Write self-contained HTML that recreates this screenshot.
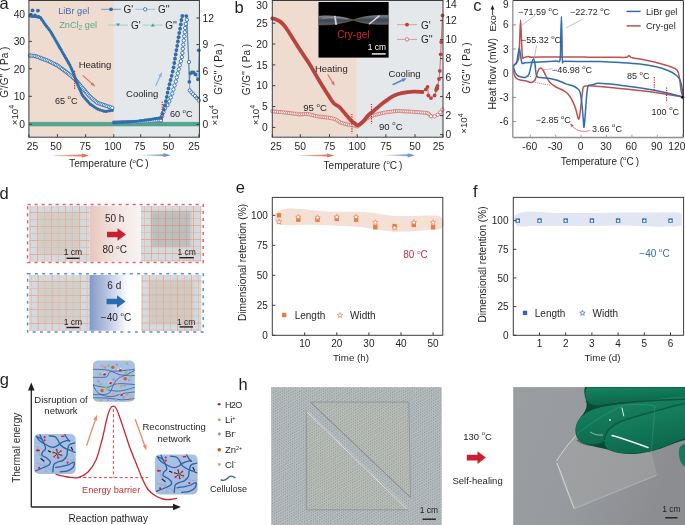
<!DOCTYPE html>
<html><head><meta charset="utf-8"><style>
html,body{margin:0;padding:0;background:#fff;}
svg{display:block;font-family:"Liberation Sans", sans-serif;}
</style></head><body>
<div style="will-change:transform;width:685px;height:525px"><svg width="685" height="525" viewBox="0 0 685 525">
<rect x="28.9" y="0.5" width="85.0" height="136.7" fill="#eedcd1" />
<rect x="113.9" y="0.5" width="85.5" height="136.7" fill="#e4e8ea" />
<rect x="29.4" y="121.9" width="169.5" height="4.4" fill="#52a58c" />
<polygon points="30,122.3 32,122.3 31,124.2" fill="#5cab93"/>
<polygon points="32,122.3 34,122.3 33,124.2" fill="#5cab93"/>
<polygon points="34,122.3 36,122.3 35,124.2" fill="#5cab93"/>
<polygon points="36,122.3 38,122.3 37,124.2" fill="#5cab93"/>
<polygon points="38,122.3 40,122.3 39,124.2" fill="#5cab93"/>
<polygon points="40,122.3 42,122.3 41,124.2" fill="#5cab93"/>
<polygon points="42,122.3 44,122.3 43,124.2" fill="#5cab93"/>
<polygon points="44,122.3 46,122.3 45,124.2" fill="#5cab93"/>
<polygon points="46,122.3 48,122.3 47,124.2" fill="#5cab93"/>
<polygon points="48,122.3 50,122.3 49,124.2" fill="#5cab93"/>
<polygon points="50,122.3 52,122.3 51,124.2" fill="#5cab93"/>
<polygon points="52,122.3 54,122.3 53,124.2" fill="#5cab93"/>
<polygon points="54,122.3 56,122.3 55,124.2" fill="#5cab93"/>
<polygon points="56,122.3 58,122.3 57,124.2" fill="#5cab93"/>
<polygon points="58,122.3 60,122.3 59,124.2" fill="#5cab93"/>
<polygon points="60,122.3 62,122.3 61,124.2" fill="#5cab93"/>
<polygon points="62,122.3 64,122.3 63,124.2" fill="#5cab93"/>
<polygon points="64,122.3 66,122.3 65,124.2" fill="#5cab93"/>
<polygon points="66,122.3 68,122.3 67,124.2" fill="#5cab93"/>
<polygon points="68,122.3 70,122.3 69,124.2" fill="#5cab93"/>
<polygon points="70,122.3 72,122.3 71,124.2" fill="#5cab93"/>
<polygon points="72,122.3 74,122.3 73,124.2" fill="#5cab93"/>
<polygon points="74,122.3 76,122.3 75,124.2" fill="#5cab93"/>
<polygon points="76,122.3 78,122.3 77,124.2" fill="#5cab93"/>
<polygon points="78,122.3 80,122.3 79,124.2" fill="#5cab93"/>
<polygon points="80,122.3 82,122.3 81,124.2" fill="#5cab93"/>
<polygon points="82,122.3 84,122.3 83,124.2" fill="#5cab93"/>
<polygon points="84,122.3 86,122.3 85,124.2" fill="#5cab93"/>
<polygon points="86,122.3 88,122.3 87,124.2" fill="#5cab93"/>
<polygon points="88,122.3 90,122.3 89,124.2" fill="#5cab93"/>
<polygon points="90,122.3 92,122.3 91,124.2" fill="#5cab93"/>
<polygon points="92,122.3 94,122.3 93,124.2" fill="#5cab93"/>
<polygon points="94,122.3 96,122.3 95,124.2" fill="#5cab93"/>
<polygon points="96,122.3 98,122.3 97,124.2" fill="#5cab93"/>
<polygon points="98,122.3 100,122.3 99,124.2" fill="#5cab93"/>
<polygon points="100,122.3 102,122.3 101,124.2" fill="#5cab93"/>
<polygon points="102,122.3 104,122.3 103,124.2" fill="#5cab93"/>
<polygon points="104,122.3 106,122.3 105,124.2" fill="#5cab93"/>
<polygon points="106,122.3 108,122.3 107,124.2" fill="#5cab93"/>
<polygon points="108,122.3 110,122.3 109,124.2" fill="#5cab93"/>
<polygon points="110,122.3 112,122.3 111,124.2" fill="#5cab93"/>
<polygon points="112,122.3 114,122.3 113,124.2" fill="#5cab93"/>
<polygon points="114,122.3 116,122.3 115,124.2" fill="#5cab93"/>
<polygon points="116,122.3 118,122.3 117,124.2" fill="#5cab93"/>
<polygon points="118,122.3 120,122.3 119,124.2" fill="#5cab93"/>
<polygon points="120,122.3 122,122.3 121,124.2" fill="#5cab93"/>
<polygon points="122,122.3 124,122.3 123,124.2" fill="#5cab93"/>
<polygon points="124,122.3 126,122.3 125,124.2" fill="#5cab93"/>
<polygon points="126,122.3 128,122.3 127,124.2" fill="#5cab93"/>
<polygon points="128,122.3 130,122.3 129,124.2" fill="#5cab93"/>
<polygon points="130,122.3 132,122.3 131,124.2" fill="#5cab93"/>
<polygon points="132,122.3 134,122.3 133,124.2" fill="#5cab93"/>
<polygon points="134,122.3 136,122.3 135,124.2" fill="#5cab93"/>
<polygon points="136,122.3 138,122.3 137,124.2" fill="#5cab93"/>
<polygon points="138,122.3 140,122.3 139,124.2" fill="#5cab93"/>
<polygon points="140,122.3 142,122.3 141,124.2" fill="#5cab93"/>
<polygon points="142,122.3 144,122.3 143,124.2" fill="#5cab93"/>
<polygon points="144,122.3 146,122.3 145,124.2" fill="#5cab93"/>
<polygon points="146,122.3 148,122.3 147,124.2" fill="#5cab93"/>
<polygon points="148,122.3 150,122.3 149,124.2" fill="#5cab93"/>
<polygon points="150,122.3 152,122.3 151,124.2" fill="#5cab93"/>
<polygon points="152,122.3 154,122.3 153,124.2" fill="#5cab93"/>
<polygon points="154,122.3 156,122.3 155,124.2" fill="#5cab93"/>
<polygon points="156,122.3 158,122.3 157,124.2" fill="#5cab93"/>
<polygon points="158,122.3 160,122.3 159,124.2" fill="#5cab93"/>
<polygon points="160,122.3 162,122.3 161,124.2" fill="#5cab93"/>
<polygon points="162,122.3 164,122.3 163,124.2" fill="#5cab93"/>
<polygon points="164,122.3 166,122.3 165,124.2" fill="#5cab93"/>
<polygon points="166,122.3 168,122.3 167,124.2" fill="#5cab93"/>
<polygon points="168,122.3 170,122.3 169,124.2" fill="#5cab93"/>
<polygon points="170,122.3 172,122.3 171,124.2" fill="#5cab93"/>
<polygon points="172,122.3 174,122.3 173,124.2" fill="#5cab93"/>
<polygon points="174,122.3 176,122.3 175,124.2" fill="#5cab93"/>
<polygon points="176,122.3 178,122.3 177,124.2" fill="#5cab93"/>
<polygon points="178,122.3 180,122.3 179,124.2" fill="#5cab93"/>
<polygon points="180,122.3 182,122.3 181,124.2" fill="#5cab93"/>
<polygon points="182,122.3 184,122.3 183,124.2" fill="#5cab93"/>
<polygon points="184,122.3 186,122.3 185,124.2" fill="#5cab93"/>
<polygon points="186,122.3 188,122.3 187,124.2" fill="#5cab93"/>
<polygon points="188,122.3 190,122.3 189,124.2" fill="#5cab93"/>
<polygon points="190,122.3 192,122.3 191,124.2" fill="#5cab93"/>
<polygon points="192,122.3 194,122.3 193,124.2" fill="#5cab93"/>
<polygon points="194,122.3 196,122.3 195,124.2" fill="#5cab93"/>
<polygon points="196,122.3 198,122.3 197,124.2" fill="#5cab93"/>
<polygon points="198,122.3 200,122.3 199,124.2" fill="#5cab93"/>
<circle cx="30.0" cy="55.5" r="1.7" fill="#fff" stroke="#2f6ead" stroke-width="0.9"/>
<circle cx="31.7" cy="55.7" r="1.7" fill="#fff" stroke="#2f6ead" stroke-width="0.9"/>
<circle cx="33.5" cy="55.9" r="1.7" fill="#fff" stroke="#2f6ead" stroke-width="0.9"/>
<circle cx="35.2" cy="56.1" r="1.7" fill="#fff" stroke="#2f6ead" stroke-width="0.9"/>
<circle cx="36.9" cy="56.7" r="1.7" fill="#fff" stroke="#2f6ead" stroke-width="0.9"/>
<circle cx="38.5" cy="57.2" r="1.7" fill="#fff" stroke="#2f6ead" stroke-width="0.9"/>
<circle cx="40.2" cy="57.9" r="1.7" fill="#fff" stroke="#2f6ead" stroke-width="0.9"/>
<circle cx="41.8" cy="58.5" r="1.7" fill="#fff" stroke="#2f6ead" stroke-width="0.9"/>
<circle cx="43.5" cy="59.1" r="1.7" fill="#fff" stroke="#2f6ead" stroke-width="0.9"/>
<circle cx="45.1" cy="59.7" r="1.7" fill="#fff" stroke="#2f6ead" stroke-width="0.9"/>
<circle cx="46.8" cy="60.3" r="1.7" fill="#fff" stroke="#2f6ead" stroke-width="0.9"/>
<circle cx="48.4" cy="61.0" r="1.7" fill="#fff" stroke="#2f6ead" stroke-width="0.9"/>
<circle cx="50.0" cy="61.8" r="1.7" fill="#fff" stroke="#2f6ead" stroke-width="0.9"/>
<circle cx="51.5" cy="62.6" r="1.7" fill="#fff" stroke="#2f6ead" stroke-width="0.9"/>
<circle cx="53.1" cy="63.4" r="1.7" fill="#fff" stroke="#2f6ead" stroke-width="0.9"/>
<circle cx="54.7" cy="64.1" r="1.7" fill="#fff" stroke="#2f6ead" stroke-width="0.9"/>
<circle cx="56.2" cy="64.9" r="1.7" fill="#fff" stroke="#2f6ead" stroke-width="0.9"/>
<circle cx="57.8" cy="65.7" r="1.7" fill="#fff" stroke="#2f6ead" stroke-width="0.9"/>
<circle cx="59.2" cy="66.8" r="1.7" fill="#fff" stroke="#2f6ead" stroke-width="0.9"/>
<circle cx="60.6" cy="67.8" r="1.7" fill="#fff" stroke="#2f6ead" stroke-width="0.9"/>
<circle cx="62.0" cy="68.9" r="1.7" fill="#fff" stroke="#2f6ead" stroke-width="0.9"/>
<circle cx="63.4" cy="69.9" r="1.7" fill="#fff" stroke="#2f6ead" stroke-width="0.9"/>
<circle cx="64.9" cy="71.0" r="1.7" fill="#fff" stroke="#2f6ead" stroke-width="0.9"/>
<circle cx="66.3" cy="72.0" r="1.7" fill="#fff" stroke="#2f6ead" stroke-width="0.9"/>
<circle cx="67.7" cy="73.1" r="1.7" fill="#fff" stroke="#2f6ead" stroke-width="0.9"/>
<circle cx="69.0" cy="74.2" r="1.7" fill="#fff" stroke="#2f6ead" stroke-width="0.9"/>
<circle cx="70.4" cy="75.3" r="1.7" fill="#fff" stroke="#2f6ead" stroke-width="0.9"/>
<circle cx="71.7" cy="76.5" r="1.7" fill="#fff" stroke="#2f6ead" stroke-width="0.9"/>
<circle cx="73.1" cy="77.6" r="1.7" fill="#fff" stroke="#2f6ead" stroke-width="0.9"/>
<circle cx="74.4" cy="78.7" r="1.7" fill="#fff" stroke="#2f6ead" stroke-width="0.9"/>
<circle cx="75.6" cy="79.9" r="1.7" fill="#fff" stroke="#2f6ead" stroke-width="0.9"/>
<circle cx="76.8" cy="81.3" r="1.7" fill="#fff" stroke="#2f6ead" stroke-width="0.9"/>
<circle cx="77.9" cy="82.6" r="1.7" fill="#fff" stroke="#2f6ead" stroke-width="0.9"/>
<circle cx="79.1" cy="84.0" r="1.7" fill="#fff" stroke="#2f6ead" stroke-width="0.9"/>
<circle cx="80.2" cy="85.3" r="1.7" fill="#fff" stroke="#2f6ead" stroke-width="0.9"/>
<circle cx="81.3" cy="86.6" r="1.7" fill="#fff" stroke="#2f6ead" stroke-width="0.9"/>
<circle cx="82.5" cy="88.0" r="1.7" fill="#fff" stroke="#2f6ead" stroke-width="0.9"/>
<circle cx="83.6" cy="89.3" r="1.7" fill="#fff" stroke="#2f6ead" stroke-width="0.9"/>
<circle cx="84.8" cy="90.6" r="1.7" fill="#fff" stroke="#2f6ead" stroke-width="0.9"/>
<circle cx="85.9" cy="92.0" r="1.7" fill="#fff" stroke="#2f6ead" stroke-width="0.9"/>
<circle cx="87.1" cy="93.3" r="1.7" fill="#fff" stroke="#2f6ead" stroke-width="0.9"/>
<circle cx="88.2" cy="94.6" r="1.7" fill="#fff" stroke="#2f6ead" stroke-width="0.9"/>
<circle cx="89.4" cy="96.0" r="1.7" fill="#fff" stroke="#2f6ead" stroke-width="0.9"/>
<circle cx="90.6" cy="97.2" r="1.7" fill="#fff" stroke="#2f6ead" stroke-width="0.9"/>
<circle cx="91.9" cy="98.3" r="1.7" fill="#fff" stroke="#2f6ead" stroke-width="0.9"/>
<circle cx="93.3" cy="99.5" r="1.7" fill="#fff" stroke="#2f6ead" stroke-width="0.9"/>
<circle cx="94.6" cy="100.6" r="1.7" fill="#fff" stroke="#2f6ead" stroke-width="0.9"/>
<circle cx="96.0" cy="101.7" r="1.7" fill="#fff" stroke="#2f6ead" stroke-width="0.9"/>
<circle cx="97.3" cy="102.8" r="1.7" fill="#fff" stroke="#2f6ead" stroke-width="0.9"/>
<circle cx="99.0" cy="103.4" r="1.7" fill="#fff" stroke="#2f6ead" stroke-width="0.9"/>
<circle cx="100.6" cy="104.0" r="1.7" fill="#fff" stroke="#2f6ead" stroke-width="0.9"/>
<circle cx="102.3" cy="104.5" r="1.7" fill="#fff" stroke="#2f6ead" stroke-width="0.9"/>
<circle cx="104.0" cy="105.1" r="1.7" fill="#fff" stroke="#2f6ead" stroke-width="0.9"/>
<circle cx="105.6" cy="105.7" r="1.7" fill="#fff" stroke="#2f6ead" stroke-width="0.9"/>
<circle cx="107.3" cy="106.2" r="1.7" fill="#fff" stroke="#2f6ead" stroke-width="0.9"/>
<circle cx="109.0" cy="106.8" r="1.7" fill="#fff" stroke="#2f6ead" stroke-width="0.9"/>
<circle cx="110.6" cy="107.3" r="1.7" fill="#fff" stroke="#2f6ead" stroke-width="0.9"/>
<circle cx="112.3" cy="107.9" r="1.7" fill="#fff" stroke="#2f6ead" stroke-width="0.9"/>
<circle cx="30.0" cy="16.0" r="1.6" fill="#2f6ead" stroke="none" stroke-width="0.8"/>
<circle cx="32.1" cy="16.4" r="1.6" fill="#2f6ead" stroke="none" stroke-width="0.8"/>
<circle cx="34.3" cy="16.5" r="1.6" fill="#2f6ead" stroke="none" stroke-width="0.8"/>
<circle cx="36.4" cy="16.6" r="1.6" fill="#2f6ead" stroke="none" stroke-width="0.8"/>
<circle cx="38.5" cy="17.0" r="1.6" fill="#2f6ead" stroke="none" stroke-width="0.8"/>
<circle cx="40.5" cy="17.6" r="1.6" fill="#2f6ead" stroke="none" stroke-width="0.8"/>
<circle cx="41.7" cy="19.4" r="1.6" fill="#2f6ead" stroke="none" stroke-width="0.8"/>
<circle cx="42.9" cy="21.1" r="1.6" fill="#2f6ead" stroke="none" stroke-width="0.8"/>
<circle cx="44.1" cy="22.9" r="1.6" fill="#2f6ead" stroke="none" stroke-width="0.8"/>
<circle cx="45.3" cy="24.7" r="1.6" fill="#2f6ead" stroke="none" stroke-width="0.8"/>
<circle cx="46.7" cy="26.4" r="1.6" fill="#2f6ead" stroke="none" stroke-width="0.8"/>
<circle cx="48.0" cy="28.1" r="1.6" fill="#2f6ead" stroke="none" stroke-width="0.8"/>
<circle cx="49.3" cy="29.8" r="1.6" fill="#2f6ead" stroke="none" stroke-width="0.8"/>
<circle cx="50.6" cy="31.5" r="1.6" fill="#2f6ead" stroke="none" stroke-width="0.8"/>
<circle cx="51.6" cy="33.3" r="1.6" fill="#2f6ead" stroke="none" stroke-width="0.8"/>
<circle cx="52.7" cy="35.2" r="1.6" fill="#2f6ead" stroke="none" stroke-width="0.8"/>
<circle cx="53.8" cy="37.1" r="1.6" fill="#2f6ead" stroke="none" stroke-width="0.8"/>
<circle cx="54.9" cy="38.9" r="1.6" fill="#2f6ead" stroke="none" stroke-width="0.8"/>
<circle cx="55.9" cy="40.8" r="1.6" fill="#2f6ead" stroke="none" stroke-width="0.8"/>
<circle cx="57.0" cy="42.7" r="1.6" fill="#2f6ead" stroke="none" stroke-width="0.8"/>
<circle cx="58.1" cy="44.5" r="1.6" fill="#2f6ead" stroke="none" stroke-width="0.8"/>
<circle cx="59.1" cy="46.4" r="1.6" fill="#2f6ead" stroke="none" stroke-width="0.8"/>
<circle cx="60.2" cy="48.3" r="1.6" fill="#2f6ead" stroke="none" stroke-width="0.8"/>
<circle cx="61.3" cy="50.1" r="1.6" fill="#2f6ead" stroke="none" stroke-width="0.8"/>
<circle cx="62.3" cy="52.0" r="1.6" fill="#2f6ead" stroke="none" stroke-width="0.8"/>
<circle cx="63.4" cy="53.9" r="1.6" fill="#2f6ead" stroke="none" stroke-width="0.8"/>
<circle cx="64.5" cy="55.7" r="1.6" fill="#2f6ead" stroke="none" stroke-width="0.8"/>
<circle cx="65.5" cy="57.6" r="1.6" fill="#2f6ead" stroke="none" stroke-width="0.8"/>
<circle cx="66.6" cy="59.4" r="1.6" fill="#2f6ead" stroke="none" stroke-width="0.8"/>
<circle cx="67.7" cy="61.3" r="1.6" fill="#2f6ead" stroke="none" stroke-width="0.8"/>
<circle cx="68.7" cy="63.2" r="1.6" fill="#2f6ead" stroke="none" stroke-width="0.8"/>
<circle cx="69.8" cy="65.0" r="1.6" fill="#2f6ead" stroke="none" stroke-width="0.8"/>
<circle cx="70.7" cy="67.0" r="1.6" fill="#2f6ead" stroke="none" stroke-width="0.8"/>
<circle cx="71.6" cy="68.9" r="1.6" fill="#2f6ead" stroke="none" stroke-width="0.8"/>
<circle cx="72.4" cy="70.9" r="1.6" fill="#2f6ead" stroke="none" stroke-width="0.8"/>
<circle cx="73.3" cy="72.9" r="1.6" fill="#2f6ead" stroke="none" stroke-width="0.8"/>
<circle cx="74.1" cy="74.9" r="1.6" fill="#2f6ead" stroke="none" stroke-width="0.8"/>
<circle cx="74.8" cy="76.9" r="1.6" fill="#2f6ead" stroke="none" stroke-width="0.8"/>
<circle cx="75.6" cy="78.9" r="1.6" fill="#2f6ead" stroke="none" stroke-width="0.8"/>
<circle cx="76.3" cy="80.9" r="1.6" fill="#2f6ead" stroke="none" stroke-width="0.8"/>
<circle cx="77.1" cy="82.9" r="1.6" fill="#2f6ead" stroke="none" stroke-width="0.8"/>
<circle cx="77.9" cy="84.9" r="1.6" fill="#2f6ead" stroke="none" stroke-width="0.8"/>
<circle cx="78.7" cy="86.9" r="1.6" fill="#2f6ead" stroke="none" stroke-width="0.8"/>
<circle cx="79.6" cy="88.9" r="1.6" fill="#2f6ead" stroke="none" stroke-width="0.8"/>
<circle cx="80.5" cy="90.8" r="1.6" fill="#2f6ead" stroke="none" stroke-width="0.8"/>
<circle cx="81.3" cy="92.8" r="1.6" fill="#2f6ead" stroke="none" stroke-width="0.8"/>
<circle cx="82.2" cy="94.8" r="1.6" fill="#2f6ead" stroke="none" stroke-width="0.8"/>
<circle cx="83.4" cy="96.5" r="1.6" fill="#2f6ead" stroke="none" stroke-width="0.8"/>
<circle cx="84.8" cy="98.1" r="1.6" fill="#2f6ead" stroke="none" stroke-width="0.8"/>
<circle cx="86.2" cy="99.7" r="1.6" fill="#2f6ead" stroke="none" stroke-width="0.8"/>
<circle cx="87.7" cy="101.3" r="1.6" fill="#2f6ead" stroke="none" stroke-width="0.8"/>
<circle cx="89.1" cy="103.0" r="1.6" fill="#2f6ead" stroke="none" stroke-width="0.8"/>
<circle cx="90.6" cy="104.4" r="1.6" fill="#2f6ead" stroke="none" stroke-width="0.8"/>
<circle cx="92.4" cy="105.6" r="1.6" fill="#2f6ead" stroke="none" stroke-width="0.8"/>
<circle cx="94.2" cy="106.8" r="1.6" fill="#2f6ead" stroke="none" stroke-width="0.8"/>
<circle cx="96.0" cy="108.0" r="1.6" fill="#2f6ead" stroke="none" stroke-width="0.8"/>
<circle cx="97.8" cy="109.1" r="1.6" fill="#2f6ead" stroke="none" stroke-width="0.8"/>
<circle cx="99.8" cy="109.8" r="1.6" fill="#2f6ead" stroke="none" stroke-width="0.8"/>
<circle cx="101.9" cy="110.5" r="1.6" fill="#2f6ead" stroke="none" stroke-width="0.8"/>
<circle cx="103.9" cy="111.2" r="1.6" fill="#2f6ead" stroke="none" stroke-width="0.8"/>
<circle cx="106.0" cy="111.4" r="1.6" fill="#2f6ead" stroke="none" stroke-width="0.8"/>
<circle cx="108.1" cy="111.0" r="1.6" fill="#2f6ead" stroke="none" stroke-width="0.8"/>
<circle cx="110.2" cy="110.7" r="1.6" fill="#2f6ead" stroke="none" stroke-width="0.8"/>
<circle cx="112.3" cy="110.3" r="1.6" fill="#2f6ead" stroke="none" stroke-width="0.8"/>
<circle cx="32.5" cy="10.4" r="1.9" fill="#2f6ead" stroke="none" stroke-width="0.8"/>
<circle cx="37.9" cy="10.6" r="1.9" fill="#2f6ead" stroke="none" stroke-width="0.8"/>
<circle cx="31.0" cy="15.0" r="1.9" fill="#2f6ead" stroke="none" stroke-width="0.8"/>
<circle cx="35.0" cy="15.5" r="1.9" fill="#2f6ead" stroke="none" stroke-width="0.8"/>
<circle cx="38.5" cy="16.8" r="1.9" fill="#2f6ead" stroke="none" stroke-width="0.8"/>
<polyline points="113.7,122.3 140.0,121.8 160.8,120.3 164.5,109.0 168.3,104.0 172.0,94.2 175.7,81.8 179.4,67.0 181.9,57.0 183.9,39.7 185.6,24.8 186.9,19.8 188.9,62.0 189.8,90.5 193.1,94.2 196.8,98.0 198.8,100.4" fill="none" stroke="#2f6ead" stroke-width="0.6" stroke-linejoin="round" stroke-linecap="round" />
<polyline points="113.7,122.7 134.8,121.5 149.7,119.5 160.8,117.8 163.3,111.6 165.8,101.7 168.3,89.3 170.8,79.3 173.2,69.4 175.7,54.5 178.2,39.7 180.7,24.8 181.9,16.1 184.4,15.4 186.4,16.1 188.1,49.6 189.3,81.8 190.6,73.1 193.1,72.4 195.5,74.4 198.0,79.3 199.3,50.0" fill="none" stroke="#2f6ead" stroke-width="0.6" stroke-linejoin="round" stroke-linecap="round" />
<circle cx="113.7" cy="122.3" r="1.5" fill="#fff" stroke="#2f6ead" stroke-width="0.8"/>
<circle cx="115.6" cy="122.3" r="1.5" fill="#fff" stroke="#2f6ead" stroke-width="0.8"/>
<circle cx="117.5" cy="122.2" r="1.5" fill="#fff" stroke="#2f6ead" stroke-width="0.8"/>
<circle cx="119.4" cy="122.2" r="1.5" fill="#fff" stroke="#2f6ead" stroke-width="0.8"/>
<circle cx="121.2" cy="122.2" r="1.5" fill="#fff" stroke="#2f6ead" stroke-width="0.8"/>
<circle cx="123.1" cy="122.1" r="1.5" fill="#fff" stroke="#2f6ead" stroke-width="0.8"/>
<circle cx="125.0" cy="122.1" r="1.5" fill="#fff" stroke="#2f6ead" stroke-width="0.8"/>
<circle cx="126.9" cy="122.0" r="1.5" fill="#fff" stroke="#2f6ead" stroke-width="0.8"/>
<circle cx="128.8" cy="122.0" r="1.5" fill="#fff" stroke="#2f6ead" stroke-width="0.8"/>
<circle cx="130.7" cy="122.0" r="1.5" fill="#fff" stroke="#2f6ead" stroke-width="0.8"/>
<circle cx="132.6" cy="121.9" r="1.5" fill="#fff" stroke="#2f6ead" stroke-width="0.8"/>
<circle cx="134.4" cy="121.9" r="1.5" fill="#fff" stroke="#2f6ead" stroke-width="0.8"/>
<circle cx="136.3" cy="121.9" r="1.5" fill="#fff" stroke="#2f6ead" stroke-width="0.8"/>
<circle cx="138.2" cy="121.8" r="1.5" fill="#fff" stroke="#2f6ead" stroke-width="0.8"/>
<circle cx="140.1" cy="121.8" r="1.5" fill="#fff" stroke="#2f6ead" stroke-width="0.8"/>
<circle cx="142.0" cy="121.7" r="1.5" fill="#fff" stroke="#2f6ead" stroke-width="0.8"/>
<circle cx="143.9" cy="121.5" r="1.5" fill="#fff" stroke="#2f6ead" stroke-width="0.8"/>
<circle cx="145.7" cy="121.4" r="1.5" fill="#fff" stroke="#2f6ead" stroke-width="0.8"/>
<circle cx="147.6" cy="121.2" r="1.5" fill="#fff" stroke="#2f6ead" stroke-width="0.8"/>
<circle cx="149.5" cy="121.1" r="1.5" fill="#fff" stroke="#2f6ead" stroke-width="0.8"/>
<circle cx="151.4" cy="121.0" r="1.5" fill="#fff" stroke="#2f6ead" stroke-width="0.8"/>
<circle cx="153.3" cy="120.8" r="1.5" fill="#fff" stroke="#2f6ead" stroke-width="0.8"/>
<circle cx="155.2" cy="120.7" r="1.5" fill="#fff" stroke="#2f6ead" stroke-width="0.8"/>
<circle cx="157.0" cy="120.6" r="1.5" fill="#fff" stroke="#2f6ead" stroke-width="0.8"/>
<circle cx="158.9" cy="120.4" r="1.5" fill="#fff" stroke="#2f6ead" stroke-width="0.8"/>
<circle cx="160.8" cy="120.3" r="1.5" fill="#fff" stroke="#2f6ead" stroke-width="0.8"/>
<circle cx="160.8" cy="120.3" r="1.7" fill="#fff" stroke="#2f6ead" stroke-width="0.9"/>
<circle cx="162.1" cy="116.3" r="1.7" fill="#fff" stroke="#2f6ead" stroke-width="0.9"/>
<circle cx="163.4" cy="112.3" r="1.7" fill="#fff" stroke="#2f6ead" stroke-width="0.9"/>
<circle cx="164.9" cy="108.5" r="1.7" fill="#fff" stroke="#2f6ead" stroke-width="0.9"/>
<circle cx="167.4" cy="105.1" r="1.7" fill="#fff" stroke="#2f6ead" stroke-width="0.9"/>
<circle cx="169.3" cy="101.4" r="1.7" fill="#fff" stroke="#2f6ead" stroke-width="0.9"/>
<circle cx="170.8" cy="97.5" r="1.7" fill="#fff" stroke="#2f6ead" stroke-width="0.9"/>
<circle cx="172.2" cy="93.6" r="1.7" fill="#fff" stroke="#2f6ead" stroke-width="0.9"/>
<circle cx="173.4" cy="89.5" r="1.7" fill="#fff" stroke="#2f6ead" stroke-width="0.9"/>
<circle cx="174.6" cy="85.5" r="1.7" fill="#fff" stroke="#2f6ead" stroke-width="0.9"/>
<circle cx="175.8" cy="81.5" r="1.7" fill="#fff" stroke="#2f6ead" stroke-width="0.9"/>
<circle cx="176.8" cy="77.4" r="1.7" fill="#fff" stroke="#2f6ead" stroke-width="0.9"/>
<circle cx="177.8" cy="73.4" r="1.7" fill="#fff" stroke="#2f6ead" stroke-width="0.9"/>
<circle cx="178.8" cy="69.3" r="1.7" fill="#fff" stroke="#2f6ead" stroke-width="0.9"/>
<circle cx="179.8" cy="65.2" r="1.7" fill="#fff" stroke="#2f6ead" stroke-width="0.9"/>
<circle cx="180.9" cy="61.2" r="1.7" fill="#fff" stroke="#2f6ead" stroke-width="0.9"/>
<circle cx="181.9" cy="57.1" r="1.7" fill="#fff" stroke="#2f6ead" stroke-width="0.9"/>
<circle cx="182.4" cy="53.0" r="1.7" fill="#fff" stroke="#2f6ead" stroke-width="0.9"/>
<circle cx="182.8" cy="48.8" r="1.7" fill="#fff" stroke="#2f6ead" stroke-width="0.9"/>
<circle cx="183.3" cy="44.6" r="1.7" fill="#fff" stroke="#2f6ead" stroke-width="0.9"/>
<circle cx="183.8" cy="40.5" r="1.7" fill="#fff" stroke="#2f6ead" stroke-width="0.9"/>
<circle cx="184.3" cy="36.3" r="1.7" fill="#fff" stroke="#2f6ead" stroke-width="0.9"/>
<circle cx="184.8" cy="32.2" r="1.7" fill="#fff" stroke="#2f6ead" stroke-width="0.9"/>
<circle cx="185.2" cy="28.0" r="1.7" fill="#fff" stroke="#2f6ead" stroke-width="0.9"/>
<circle cx="185.8" cy="23.9" r="1.7" fill="#fff" stroke="#2f6ead" stroke-width="0.9"/>
<circle cx="186.9" cy="19.8" r="1.7" fill="#fff" stroke="#2f6ead" stroke-width="0.9"/>
<circle cx="188.9" cy="62.0" r="1.7" fill="#fff" stroke="#2f6ead" stroke-width="0.9"/>
<circle cx="189.8" cy="90.5" r="1.7" fill="#fff" stroke="#2f6ead" stroke-width="0.9"/>
<circle cx="191.5" cy="92.5" r="1.7" fill="#fff" stroke="#2f6ead" stroke-width="0.9"/>
<circle cx="193.1" cy="94.2" r="1.7" fill="#fff" stroke="#2f6ead" stroke-width="0.9"/>
<circle cx="195.0" cy="96.0" r="1.7" fill="#fff" stroke="#2f6ead" stroke-width="0.9"/>
<circle cx="196.8" cy="98.0" r="1.7" fill="#fff" stroke="#2f6ead" stroke-width="0.9"/>
<circle cx="198.8" cy="100.4" r="1.7" fill="#fff" stroke="#2f6ead" stroke-width="0.9"/>
<circle cx="113.7" cy="122.7" r="1.6" fill="#2f6ead" stroke="none" stroke-width="0.8"/>
<circle cx="115.8" cy="122.6" r="1.6" fill="#2f6ead" stroke="none" stroke-width="0.8"/>
<circle cx="117.8" cy="122.5" r="1.6" fill="#2f6ead" stroke="none" stroke-width="0.8"/>
<circle cx="119.9" cy="122.3" r="1.6" fill="#2f6ead" stroke="none" stroke-width="0.8"/>
<circle cx="121.9" cy="122.2" r="1.6" fill="#2f6ead" stroke="none" stroke-width="0.8"/>
<circle cx="124.0" cy="122.1" r="1.6" fill="#2f6ead" stroke="none" stroke-width="0.8"/>
<circle cx="126.0" cy="122.0" r="1.6" fill="#2f6ead" stroke="none" stroke-width="0.8"/>
<circle cx="128.1" cy="121.9" r="1.6" fill="#2f6ead" stroke="none" stroke-width="0.8"/>
<circle cx="130.2" cy="121.8" r="1.6" fill="#2f6ead" stroke="none" stroke-width="0.8"/>
<circle cx="132.2" cy="121.6" r="1.6" fill="#2f6ead" stroke="none" stroke-width="0.8"/>
<circle cx="134.3" cy="121.5" r="1.6" fill="#2f6ead" stroke="none" stroke-width="0.8"/>
<circle cx="136.3" cy="121.3" r="1.6" fill="#2f6ead" stroke="none" stroke-width="0.8"/>
<circle cx="138.4" cy="121.0" r="1.6" fill="#2f6ead" stroke="none" stroke-width="0.8"/>
<circle cx="140.4" cy="120.7" r="1.6" fill="#2f6ead" stroke="none" stroke-width="0.8"/>
<circle cx="142.4" cy="120.5" r="1.6" fill="#2f6ead" stroke="none" stroke-width="0.8"/>
<circle cx="144.5" cy="120.2" r="1.6" fill="#2f6ead" stroke="none" stroke-width="0.8"/>
<circle cx="146.5" cy="119.9" r="1.6" fill="#2f6ead" stroke="none" stroke-width="0.8"/>
<circle cx="148.6" cy="119.7" r="1.6" fill="#2f6ead" stroke="none" stroke-width="0.8"/>
<circle cx="150.6" cy="119.4" r="1.6" fill="#2f6ead" stroke="none" stroke-width="0.8"/>
<circle cx="152.7" cy="119.0" r="1.6" fill="#2f6ead" stroke="none" stroke-width="0.8"/>
<circle cx="154.7" cy="118.7" r="1.6" fill="#2f6ead" stroke="none" stroke-width="0.8"/>
<circle cx="156.7" cy="118.4" r="1.6" fill="#2f6ead" stroke="none" stroke-width="0.8"/>
<circle cx="158.8" cy="118.1" r="1.6" fill="#2f6ead" stroke="none" stroke-width="0.8"/>
<circle cx="160.8" cy="117.8" r="1.6" fill="#2f6ead" stroke="none" stroke-width="0.8"/>
<circle cx="160.8" cy="117.8" r="1.9" fill="#2f6ead" stroke="none" stroke-width="0.8"/>
<circle cx="162.4" cy="113.8" r="1.9" fill="#2f6ead" stroke="none" stroke-width="0.8"/>
<circle cx="163.8" cy="109.6" r="1.9" fill="#2f6ead" stroke="none" stroke-width="0.8"/>
<circle cx="164.9" cy="105.4" r="1.9" fill="#2f6ead" stroke="none" stroke-width="0.8"/>
<circle cx="165.9" cy="101.2" r="1.9" fill="#2f6ead" stroke="none" stroke-width="0.8"/>
<circle cx="166.8" cy="96.9" r="1.9" fill="#2f6ead" stroke="none" stroke-width="0.8"/>
<circle cx="167.6" cy="92.7" r="1.9" fill="#2f6ead" stroke="none" stroke-width="0.8"/>
<circle cx="168.5" cy="88.4" r="1.9" fill="#2f6ead" stroke="none" stroke-width="0.8"/>
<circle cx="169.6" cy="84.2" r="1.9" fill="#2f6ead" stroke="none" stroke-width="0.8"/>
<circle cx="170.6" cy="80.0" r="1.9" fill="#2f6ead" stroke="none" stroke-width="0.8"/>
<circle cx="171.7" cy="75.8" r="1.9" fill="#2f6ead" stroke="none" stroke-width="0.8"/>
<circle cx="172.7" cy="71.5" r="1.9" fill="#2f6ead" stroke="none" stroke-width="0.8"/>
<circle cx="173.6" cy="67.3" r="1.9" fill="#2f6ead" stroke="none" stroke-width="0.8"/>
<circle cx="174.3" cy="63.0" r="1.9" fill="#2f6ead" stroke="none" stroke-width="0.8"/>
<circle cx="175.0" cy="58.7" r="1.9" fill="#2f6ead" stroke="none" stroke-width="0.8"/>
<circle cx="175.7" cy="54.4" r="1.9" fill="#2f6ead" stroke="none" stroke-width="0.8"/>
<circle cx="176.4" cy="50.1" r="1.9" fill="#2f6ead" stroke="none" stroke-width="0.8"/>
<circle cx="177.2" cy="45.8" r="1.9" fill="#2f6ead" stroke="none" stroke-width="0.8"/>
<circle cx="177.9" cy="41.5" r="1.9" fill="#2f6ead" stroke="none" stroke-width="0.8"/>
<circle cx="178.6" cy="37.2" r="1.9" fill="#2f6ead" stroke="none" stroke-width="0.8"/>
<circle cx="179.3" cy="32.9" r="1.9" fill="#2f6ead" stroke="none" stroke-width="0.8"/>
<circle cx="180.1" cy="28.7" r="1.9" fill="#2f6ead" stroke="none" stroke-width="0.8"/>
<circle cx="180.8" cy="24.4" r="1.9" fill="#2f6ead" stroke="none" stroke-width="0.8"/>
<circle cx="181.4" cy="20.0" r="1.9" fill="#2f6ead" stroke="none" stroke-width="0.8"/>
<circle cx="182.3" cy="16.0" r="1.9" fill="#2f6ead" stroke="none" stroke-width="0.8"/>
<circle cx="186.4" cy="16.1" r="1.9" fill="#2f6ead" stroke="none" stroke-width="0.8"/>
<circle cx="189.3" cy="81.8" r="1.9" fill="#2f6ead" stroke="none" stroke-width="0.8"/>
<circle cx="190.6" cy="73.1" r="1.9" fill="#2f6ead" stroke="none" stroke-width="0.8"/>
<circle cx="192.0" cy="72.5" r="1.9" fill="#2f6ead" stroke="none" stroke-width="0.8"/>
<circle cx="193.6" cy="72.4" r="1.9" fill="#2f6ead" stroke="none" stroke-width="0.8"/>
<circle cx="195.5" cy="74.4" r="1.9" fill="#2f6ead" stroke="none" stroke-width="0.8"/>
<circle cx="198.0" cy="79.3" r="1.9" fill="#2f6ead" stroke="none" stroke-width="0.8"/>
<circle cx="198.8" cy="50.3" r="1.9" fill="#2f6ead" stroke="none" stroke-width="0.8"/>
<line x1="74.6" y1="70.7" x2="74.6" y2="89.5" stroke="#d1222a" stroke-width="1.2" stroke-dasharray="1.2,1.2"/>
<line x1="162.2" y1="101.7" x2="162.2" y2="121.5" stroke="#d1222a" stroke-width="1.2" stroke-dasharray="1.2,1.2"/>
<rect x="28.9" y="0.5" width="170.5" height="136.7" fill="none" stroke="#3c3c3c" stroke-width="1"/>
<line x1="28.9" y1="124.2" x2="31.9" y2="124.2" stroke="#3c3c3c" stroke-width="1" />
<text x="25.1" y="127.9" font-size="10.3" fill="#231f20" text-anchor="end" >0</text>
<line x1="28.9" y1="96.3" x2="31.9" y2="96.3" stroke="#3c3c3c" stroke-width="1" />
<text x="25.1" y="100.0" font-size="10.3" fill="#231f20" text-anchor="end" >10</text>
<line x1="28.9" y1="68.8" x2="31.9" y2="68.8" stroke="#3c3c3c" stroke-width="1" />
<text x="25.1" y="72.5" font-size="10.3" fill="#231f20" text-anchor="end" >20</text>
<line x1="28.9" y1="41.4" x2="31.9" y2="41.4" stroke="#3c3c3c" stroke-width="1" />
<text x="25.1" y="45.1" font-size="10.3" fill="#231f20" text-anchor="end" >30</text>
<line x1="28.9" y1="14.2" x2="31.9" y2="14.2" stroke="#3c3c3c" stroke-width="1" />
<text x="25.1" y="17.9" font-size="10.3" fill="#231f20" text-anchor="end" >40</text>
<line x1="196.4" y1="124.4" x2="199.4" y2="124.4" stroke="#3c3c3c" stroke-width="1" />
<text x="202.6" y="128.1" font-size="10.3" fill="#231f20" text-anchor="start" >0</text>
<line x1="196.4" y1="97.8" x2="199.4" y2="97.8" stroke="#3c3c3c" stroke-width="1" />
<text x="202.6" y="101.5" font-size="10.3" fill="#231f20" text-anchor="start" >3</text>
<line x1="196.4" y1="71.2" x2="199.4" y2="71.2" stroke="#3c3c3c" stroke-width="1" />
<text x="202.6" y="74.9" font-size="10.3" fill="#231f20" text-anchor="start" >6</text>
<line x1="196.4" y1="44.6" x2="199.4" y2="44.6" stroke="#3c3c3c" stroke-width="1" />
<text x="202.6" y="48.3" font-size="10.3" fill="#231f20" text-anchor="start" >9</text>
<line x1="196.4" y1="18.0" x2="199.4" y2="18.0" stroke="#3c3c3c" stroke-width="1" />
<text x="202.6" y="21.7" font-size="10.3" fill="#231f20" text-anchor="start" >12</text>
<line x1="28.9" y1="137.2" x2="28.9" y2="134.2" stroke="#3c3c3c" stroke-width="1" />
<line x1="57.4" y1="137.2" x2="57.4" y2="134.2" stroke="#3c3c3c" stroke-width="1" />
<line x1="85.7" y1="137.2" x2="85.7" y2="134.2" stroke="#3c3c3c" stroke-width="1" />
<line x1="113.8" y1="137.2" x2="113.8" y2="134.2" stroke="#3c3c3c" stroke-width="1" />
<line x1="140.7" y1="137.2" x2="140.7" y2="134.2" stroke="#3c3c3c" stroke-width="1" />
<line x1="169.8" y1="137.2" x2="169.8" y2="134.2" stroke="#3c3c3c" stroke-width="1" />
<line x1="198.9" y1="137.2" x2="198.9" y2="134.2" stroke="#3c3c3c" stroke-width="1" />
<text x="32.5" y="149.5" font-size="10.3" fill="#231f20" text-anchor="middle" >25</text>
<text x="56.0" y="149.5" font-size="10.3" fill="#231f20" text-anchor="middle" >50</text>
<text x="85.2" y="149.5" font-size="10.3" fill="#231f20" text-anchor="middle" >75</text>
<text x="112.9" y="149.5" font-size="10.3" fill="#231f20" text-anchor="middle" >100</text>
<text x="139.8" y="149.5" font-size="10.3" fill="#231f20" text-anchor="middle" >75</text>
<text x="168.4" y="149.5" font-size="10.3" fill="#231f20" text-anchor="middle" >50</text>
<text x="193.9" y="149.5" font-size="10.3" fill="#231f20" text-anchor="middle" >25</text>
<defs><linearGradient id="ga1" gradientUnits="userSpaceOnUse" x1="53.8" y1="0" x2="88.9" y2="0"><stop offset="0" stop-color="#f6c4b6"/><stop offset="1" stop-color="#e0644c"/></linearGradient></defs>
<polygon points="53.8,155.29999999999998 81.9,154.6 81.9,153.5 88.9,155.6 81.9,157.7 81.9,156.6 53.8,155.9" fill="url(#ga1)"/>
<defs><linearGradient id="ga2" gradientUnits="userSpaceOnUse" x1="136" y1="0" x2="170.5" y2="0"><stop offset="0" stop-color="#ffffff"/><stop offset="1" stop-color="#5a86c4"/></linearGradient></defs>
<polygon points="136,154.89999999999998 163.5,154.2 163.5,153.1 170.5,155.2 163.5,157.29999999999998 163.5,156.2 136,155.5" fill="url(#ga2)"/>
<text x="108.9" y="167.2" font-size="10.2" fill="#231f20" text-anchor="middle" >Temperature (<tspan font-size="6" dy="-4.4">o</tspan><tspan dy="4.4">C</tspan> )</text>
<text x="4.2" y="75.8" font-size="10" fill="#231f20" text-anchor="middle" transform="rotate(-90 4.2 72.2)" >G'/G'' ( Pa )</text>
<text x="14.6" y="118.5" font-size="9.7" fill="#231f20" text-anchor="middle" transform="rotate(-90 14.6 115.1)" >×10<tspan font-size="7" dy="-4">4</tspan></text>
<text x="218.0" y="72.5" font-size="10" fill="#231f20" text-anchor="middle" transform="rotate(-90 218.0 69.0)" >G'/G'' ( Pa )</text>
<text x="214.4" y="118.6" font-size="9.7" fill="#231f20" text-anchor="middle" transform="rotate(-90 214.4 115.2)" >×10<tspan font-size="7" dy="-4">4</tspan></text>
<text x="95.0" y="67.9" font-size="9.5" fill="#231f20" text-anchor="middle" >Heating</text>
<text x="142.2" y="97.1" font-size="9.5" fill="#231f20" text-anchor="middle" >Cooling</text>
<text x="66.2" y="103.6" font-size="9.1" fill="#231f20" text-anchor="middle" >65 <tspan font-size="6" dy="-4.4">o</tspan><tspan dy="4.4">C</tspan></text>
<text x="181.2" y="117.2" font-size="9.1" fill="#231f20" text-anchor="middle" >60 <tspan font-size="6" dy="-4.4">o</tspan><tspan dy="4.4">C</tspan></text>
<line x1="83.0" y1="75.6" x2="91.7" y2="83.4" stroke="#e2725b" stroke-width="1.2" stroke-linecap="round"/>
<polygon points="95.4,86.8 90.6,84.7 92.8,82.2" fill="#e2725b"/>
<line x1="155.9" y1="85.5" x2="160.0" y2="76.5" stroke="#8fb0da" stroke-width="1.2" stroke-linecap="round"/>
<polygon points="162.0,71.9 161.5,77.2 158.4,75.8" fill="#8fb0da"/>
<text x="58.2" y="13.8" font-size="9.2" fill="#3d6faf" text-anchor="start" >LiBr gel</text>
<text x="59.2" y="28.0" font-size="9.2" fill="#55ab8c" text-anchor="start" >ZnCl<tspan font-size="6.5" dy="2">2</tspan><tspan dy="-2"> gel</tspan></text>
<line x1="101.1" y1="9.3" x2="121.0" y2="9.3" stroke="#5b86bd" stroke-width="0.8" />
<circle cx="111.0" cy="9.3" r="1.9" fill="#2f6ead" stroke="none" stroke-width="0.8"/>
<text x="123.4" y="13.3" font-size="10" fill="#231f20" text-anchor="start" >G'</text>
<line x1="135.1" y1="9.3" x2="155.0" y2="9.3" stroke="#8fb0da" stroke-width="0.8" />
<circle cx="145.2" cy="9.3" r="1.7" fill="#fff" stroke="#2f6ead" stroke-width="0.9"/>
<text x="158.0" y="13.3" font-size="10" fill="#231f20" text-anchor="start" >G''</text>
<line x1="108.1" y1="25.1" x2="128.0" y2="25.1" stroke="#8fcdb5" stroke-width="0.8" />
<polygon points="116,23.6 120,23.6 118,26.6" fill="#4a9f83"/>
<text x="131.0" y="28.6" font-size="10" fill="#231f20" text-anchor="start" >G'</text>
<line x1="142.7" y1="25.1" x2="162.6" y2="25.1" stroke="#8fcdb5" stroke-width="0.8" />
<polygon points="150.8,26.6 154.8,26.6 152.8,23.6" fill="#4a9f83"/>
<text x="165.2" y="28.6" font-size="10" fill="#231f20" text-anchor="start" >G''</text>
<text x="-0.5" y="8.8" font-size="16.5" fill="#231f20" text-anchor="start" >a</text>
<rect x="272.3" y="0.5" width="84.6" height="136.7" fill="#eedcd1" />
<rect x="356.9" y="0.5" width="86.1" height="136.7" fill="#e4e8ea" />
<circle cx="272.3" cy="111.3" r="1.6" fill="#fff" stroke="#c86a66" stroke-width="0.8"/>
<circle cx="274.2" cy="111.5" r="1.6" fill="#fff" stroke="#c86a66" stroke-width="0.8"/>
<circle cx="276.0" cy="111.7" r="1.6" fill="#fff" stroke="#c86a66" stroke-width="0.8"/>
<circle cx="277.9" cy="111.9" r="1.6" fill="#fff" stroke="#c86a66" stroke-width="0.8"/>
<circle cx="279.8" cy="112.0" r="1.6" fill="#fff" stroke="#c86a66" stroke-width="0.8"/>
<circle cx="281.6" cy="112.2" r="1.6" fill="#fff" stroke="#c86a66" stroke-width="0.8"/>
<circle cx="283.5" cy="112.4" r="1.6" fill="#fff" stroke="#c86a66" stroke-width="0.8"/>
<circle cx="285.3" cy="112.6" r="1.6" fill="#fff" stroke="#c86a66" stroke-width="0.8"/>
<circle cx="287.2" cy="112.8" r="1.6" fill="#fff" stroke="#c86a66" stroke-width="0.8"/>
<circle cx="289.1" cy="113.0" r="1.6" fill="#fff" stroke="#c86a66" stroke-width="0.8"/>
<circle cx="290.9" cy="113.3" r="1.6" fill="#fff" stroke="#c86a66" stroke-width="0.8"/>
<circle cx="292.8" cy="113.5" r="1.6" fill="#fff" stroke="#c86a66" stroke-width="0.8"/>
<circle cx="294.6" cy="113.7" r="1.6" fill="#fff" stroke="#c86a66" stroke-width="0.8"/>
<circle cx="296.5" cy="113.9" r="1.6" fill="#fff" stroke="#c86a66" stroke-width="0.8"/>
<circle cx="298.4" cy="114.2" r="1.6" fill="#fff" stroke="#c86a66" stroke-width="0.8"/>
<circle cx="300.2" cy="114.4" r="1.6" fill="#fff" stroke="#c86a66" stroke-width="0.8"/>
<circle cx="302.1" cy="114.3" r="1.6" fill="#fff" stroke="#c86a66" stroke-width="0.8"/>
<circle cx="304.0" cy="114.1" r="1.6" fill="#fff" stroke="#c86a66" stroke-width="0.8"/>
<circle cx="305.8" cy="114.0" r="1.6" fill="#fff" stroke="#c86a66" stroke-width="0.8"/>
<circle cx="307.7" cy="114.0" r="1.6" fill="#fff" stroke="#c86a66" stroke-width="0.8"/>
<circle cx="309.5" cy="114.4" r="1.6" fill="#fff" stroke="#c86a66" stroke-width="0.8"/>
<circle cx="311.3" cy="114.9" r="1.6" fill="#fff" stroke="#c86a66" stroke-width="0.8"/>
<circle cx="313.1" cy="115.3" r="1.6" fill="#fff" stroke="#c86a66" stroke-width="0.8"/>
<circle cx="314.9" cy="115.8" r="1.6" fill="#fff" stroke="#c86a66" stroke-width="0.8"/>
<circle cx="316.8" cy="116.2" r="1.6" fill="#fff" stroke="#c86a66" stroke-width="0.8"/>
<circle cx="318.6" cy="116.6" r="1.6" fill="#fff" stroke="#c86a66" stroke-width="0.8"/>
<circle cx="320.5" cy="116.8" r="1.6" fill="#fff" stroke="#c86a66" stroke-width="0.8"/>
<circle cx="322.3" cy="117.0" r="1.6" fill="#fff" stroke="#c86a66" stroke-width="0.8"/>
<circle cx="324.2" cy="117.2" r="1.6" fill="#fff" stroke="#c86a66" stroke-width="0.8"/>
<circle cx="326.0" cy="117.4" r="1.6" fill="#fff" stroke="#c86a66" stroke-width="0.8"/>
<circle cx="327.9" cy="117.7" r="1.6" fill="#fff" stroke="#c86a66" stroke-width="0.8"/>
<circle cx="329.8" cy="117.9" r="1.6" fill="#fff" stroke="#c86a66" stroke-width="0.8"/>
<circle cx="331.6" cy="118.3" r="1.6" fill="#fff" stroke="#c86a66" stroke-width="0.8"/>
<circle cx="333.4" cy="118.7" r="1.6" fill="#fff" stroke="#c86a66" stroke-width="0.8"/>
<circle cx="335.2" cy="119.2" r="1.6" fill="#fff" stroke="#c86a66" stroke-width="0.8"/>
<circle cx="336.8" cy="120.2" r="1.6" fill="#fff" stroke="#c86a66" stroke-width="0.8"/>
<circle cx="338.4" cy="121.2" r="1.6" fill="#fff" stroke="#c86a66" stroke-width="0.8"/>
<circle cx="339.9" cy="122.3" r="1.6" fill="#fff" stroke="#c86a66" stroke-width="0.8"/>
<circle cx="341.6" cy="123.0" r="1.6" fill="#fff" stroke="#c86a66" stroke-width="0.8"/>
<circle cx="343.4" cy="123.5" r="1.6" fill="#fff" stroke="#c86a66" stroke-width="0.8"/>
<circle cx="345.2" cy="123.9" r="1.6" fill="#fff" stroke="#c86a66" stroke-width="0.8"/>
<circle cx="347.1" cy="124.4" r="1.6" fill="#fff" stroke="#c86a66" stroke-width="0.8"/>
<circle cx="348.9" cy="124.7" r="1.6" fill="#fff" stroke="#c86a66" stroke-width="0.8"/>
<circle cx="350.7" cy="125.0" r="1.6" fill="#fff" stroke="#c86a66" stroke-width="0.8"/>
<circle cx="352.6" cy="125.4" r="1.6" fill="#fff" stroke="#c86a66" stroke-width="0.8"/>
<circle cx="354.4" cy="125.7" r="1.6" fill="#fff" stroke="#c86a66" stroke-width="0.8"/>
<circle cx="356.2" cy="126.3" r="1.6" fill="#fff" stroke="#c86a66" stroke-width="0.8"/>
<circle cx="357.9" cy="126.3" r="1.6" fill="#fff" stroke="#c86a66" stroke-width="0.8"/>
<circle cx="359.3" cy="125.1" r="1.6" fill="#fff" stroke="#c86a66" stroke-width="0.8"/>
<circle cx="360.6" cy="123.8" r="1.6" fill="#fff" stroke="#c86a66" stroke-width="0.8"/>
<circle cx="362.0" cy="122.5" r="1.6" fill="#fff" stroke="#c86a66" stroke-width="0.8"/>
<circle cx="363.4" cy="121.3" r="1.6" fill="#fff" stroke="#c86a66" stroke-width="0.8"/>
<circle cx="364.9" cy="120.2" r="1.6" fill="#fff" stroke="#c86a66" stroke-width="0.8"/>
<circle cx="366.4" cy="119.1" r="1.6" fill="#fff" stroke="#c86a66" stroke-width="0.8"/>
<circle cx="367.9" cy="117.9" r="1.6" fill="#fff" stroke="#c86a66" stroke-width="0.8"/>
<circle cx="369.4" cy="116.8" r="1.6" fill="#fff" stroke="#c86a66" stroke-width="0.8"/>
<circle cx="371.1" cy="116.1" r="1.6" fill="#fff" stroke="#c86a66" stroke-width="0.8"/>
<circle cx="372.9" cy="115.6" r="1.6" fill="#fff" stroke="#c86a66" stroke-width="0.8"/>
<circle cx="374.7" cy="115.0" r="1.6" fill="#fff" stroke="#c86a66" stroke-width="0.8"/>
<circle cx="376.5" cy="114.5" r="1.6" fill="#fff" stroke="#c86a66" stroke-width="0.8"/>
<circle cx="378.3" cy="114.0" r="1.6" fill="#fff" stroke="#c86a66" stroke-width="0.8"/>
<circle cx="380.1" cy="113.6" r="1.6" fill="#fff" stroke="#c86a66" stroke-width="0.8"/>
<circle cx="382.0" cy="113.2" r="1.6" fill="#fff" stroke="#c86a66" stroke-width="0.8"/>
<circle cx="383.8" cy="112.8" r="1.6" fill="#fff" stroke="#c86a66" stroke-width="0.8"/>
<circle cx="385.6" cy="112.4" r="1.6" fill="#fff" stroke="#c86a66" stroke-width="0.8"/>
<circle cx="387.5" cy="112.1" r="1.6" fill="#fff" stroke="#c86a66" stroke-width="0.8"/>
<circle cx="389.3" cy="111.9" r="1.6" fill="#fff" stroke="#c86a66" stroke-width="0.8"/>
<circle cx="391.2" cy="111.7" r="1.6" fill="#fff" stroke="#c86a66" stroke-width="0.8"/>
<circle cx="393.1" cy="111.4" r="1.6" fill="#fff" stroke="#c86a66" stroke-width="0.8"/>
<circle cx="394.9" cy="111.2" r="1.6" fill="#fff" stroke="#c86a66" stroke-width="0.8"/>
<circle cx="396.8" cy="111.0" r="1.6" fill="#fff" stroke="#c86a66" stroke-width="0.8"/>
<circle cx="398.6" cy="110.9" r="1.6" fill="#fff" stroke="#c86a66" stroke-width="0.8"/>
<circle cx="400.5" cy="111.1" r="1.6" fill="#fff" stroke="#c86a66" stroke-width="0.8"/>
<circle cx="402.4" cy="111.2" r="1.6" fill="#fff" stroke="#c86a66" stroke-width="0.8"/>
<circle cx="404.2" cy="111.3" r="1.6" fill="#fff" stroke="#c86a66" stroke-width="0.8"/>
<circle cx="406.1" cy="111.4" r="1.6" fill="#fff" stroke="#c86a66" stroke-width="0.8"/>
<circle cx="408.0" cy="111.5" r="1.6" fill="#fff" stroke="#c86a66" stroke-width="0.8"/>
<circle cx="409.9" cy="111.6" r="1.6" fill="#fff" stroke="#c86a66" stroke-width="0.8"/>
<circle cx="411.7" cy="111.7" r="1.6" fill="#fff" stroke="#c86a66" stroke-width="0.8"/>
<circle cx="413.6" cy="111.9" r="1.6" fill="#fff" stroke="#c86a66" stroke-width="0.8"/>
<circle cx="415.5" cy="112.0" r="1.6" fill="#fff" stroke="#c86a66" stroke-width="0.8"/>
<circle cx="417.3" cy="112.1" r="1.6" fill="#fff" stroke="#c86a66" stroke-width="0.8"/>
<circle cx="419.2" cy="112.3" r="1.6" fill="#fff" stroke="#c86a66" stroke-width="0.8"/>
<circle cx="421.1" cy="112.4" r="1.6" fill="#fff" stroke="#c86a66" stroke-width="0.8"/>
<circle cx="422.9" cy="112.6" r="1.6" fill="#fff" stroke="#c86a66" stroke-width="0.8"/>
<circle cx="424.8" cy="112.7" r="1.6" fill="#fff" stroke="#c86a66" stroke-width="0.8"/>
<circle cx="426.7" cy="112.9" r="1.6" fill="#fff" stroke="#c86a66" stroke-width="0.8"/>
<circle cx="428.3" cy="113.6" r="1.6" fill="#fff" stroke="#c86a66" stroke-width="0.8"/>
<circle cx="429.6" cy="114.9" r="1.6" fill="#fff" stroke="#c86a66" stroke-width="0.8"/>
<circle cx="431.0" cy="116.2" r="1.6" fill="#fff" stroke="#c86a66" stroke-width="0.8"/>
<circle cx="431.0" cy="116.2" r="1.7" fill="#fff" stroke="#c86a66" stroke-width="0.8"/>
<circle cx="434.6" cy="116.4" r="1.7" fill="#fff" stroke="#c86a66" stroke-width="0.8"/>
<circle cx="437.7" cy="114.8" r="1.7" fill="#fff" stroke="#c86a66" stroke-width="0.8"/>
<circle cx="440.2" cy="112.3" r="1.7" fill="#fff" stroke="#c86a66" stroke-width="0.8"/>
<circle cx="442.5" cy="109.5" r="1.7" fill="#fff" stroke="#c86a66" stroke-width="0.8"/>
<path d="M272.3,18.4 C272.9,18.6 274.8,18.9 276.0,19.4 C277.2,19.9 278.3,20.4 279.5,21.2 C280.7,22.0 281.8,23.0 283.0,24.2 C284.2,25.4 285.3,27.0 286.5,28.6 C287.7,30.2 287.8,30.6 290.0,34.0 C292.2,37.4 296.3,44.1 299.5,49.0 C302.7,53.9 305.8,58.2 309.0,63.3 C312.2,68.4 315.3,74.2 318.5,79.5 C321.7,84.8 325.4,90.8 328.0,94.8 C330.6,98.8 331.9,101.2 333.8,103.3 C335.7,105.3 337.6,105.3 339.5,107.1 C341.4,108.8 343.3,111.6 345.2,113.8 C347.1,116.0 349.4,118.9 351.0,120.5 C352.6,122.1 353.6,122.5 354.7,123.3 C355.8,124.1 356.1,125.5 357.5,125.3 C358.9,125.0 361.1,123.4 362.8,121.8 C364.6,120.2 366.2,117.3 368.0,115.6 C369.8,113.8 371.2,113.0 373.3,111.3 C375.4,109.5 378.0,107.0 380.3,105.1 C382.6,103.2 385.0,101.5 387.3,99.9 C389.6,98.3 391.7,96.7 394.3,95.5 C396.9,94.3 399.8,93.5 403.0,92.9 C406.2,92.3 410.4,91.9 413.6,91.7 C416.8,91.5 420.9,92.0 422.3,92.0" fill="none" stroke="#b9443f" stroke-width="3.8" stroke-linecap="round"/>
<polyline points="422.3,92.0 425.8,89.4 427.6,86.8 428.4,95.5 431.0,98.1 434.6,95.5 437.2,88.5 439.0,79.0 439.8,70.9 440.7,54.3 441.2,42.0 442.5,15.4" fill="none" stroke="#b9443f" stroke-width="0.7" stroke-linejoin="round" stroke-linecap="round" />
<circle cx="422.3" cy="92.0" r="1.9" fill="#b9443f" stroke="none" stroke-width="0.8"/>
<circle cx="425.8" cy="89.4" r="1.9" fill="#b9443f" stroke="none" stroke-width="0.8"/>
<circle cx="427.6" cy="86.8" r="1.9" fill="#b9443f" stroke="none" stroke-width="0.8"/>
<circle cx="428.4" cy="95.5" r="1.9" fill="#b9443f" stroke="none" stroke-width="0.8"/>
<circle cx="431.0" cy="98.1" r="1.9" fill="#b9443f" stroke="none" stroke-width="0.8"/>
<circle cx="434.6" cy="95.5" r="1.9" fill="#b9443f" stroke="none" stroke-width="0.8"/>
<circle cx="437.2" cy="88.5" r="1.9" fill="#b9443f" stroke="none" stroke-width="0.8"/>
<circle cx="439.0" cy="79.0" r="1.9" fill="#b9443f" stroke="none" stroke-width="0.8"/>
<circle cx="439.8" cy="70.9" r="1.9" fill="#b9443f" stroke="none" stroke-width="0.8"/>
<circle cx="440.7" cy="54.3" r="1.9" fill="#b9443f" stroke="none" stroke-width="0.8"/>
<circle cx="441.2" cy="42.0" r="1.9" fill="#b9443f" stroke="none" stroke-width="0.8"/>
<circle cx="442.5" cy="15.4" r="1.9" fill="#b9443f" stroke="none" stroke-width="0.8"/>
<circle cx="436.0" cy="90.0" r="1.9" fill="#b9443f" stroke="none" stroke-width="0.8"/>
<circle cx="436.8" cy="88.0" r="1.9" fill="#b9443f" stroke="none" stroke-width="0.8"/>
<circle cx="437.5" cy="86.0" r="1.9" fill="#b9443f" stroke="none" stroke-width="0.8"/>
<line x1="351.9" y1="113.9" x2="351.9" y2="133.2" stroke="#d1222a" stroke-width="1.2" stroke-dasharray="1.2,1.2"/>
<line x1="371.5" y1="103.9" x2="371.5" y2="123.5" stroke="#d1222a" stroke-width="1.2" stroke-dasharray="1.2,1.2"/>
<rect x="318.5" y="2.0" width="70.1" height="55.6" fill="#000" />
<defs><linearGradient id="rib" x1="0" y1="0" x2="0" y2="1"><stop offset="0" stop-color="#7d8896"/><stop offset="0.5" stop-color="#3c4652"/><stop offset="1" stop-color="#56606c"/></linearGradient></defs>
<path d="M318.5,16.2 C330,15.2 342,16.2 353.4,20 C342,23.8 330,25.2 318.5,24.8 Z" fill="url(#rib)" stroke="#a07a50" stroke-width="0.5" />
<path d="M353.4,20 C362,16.2 375,15 388.6,15.3 L388.6,24.2 C375,24.8 362,23.8 353.4,20 Z" fill="url(#rib)" stroke="#a07a50" stroke-width="0.5" />
<path d="M334.8,15.8 L336.2,24.8" fill="none" stroke="#e8ecf0" stroke-width="1.8" opacity="0.85"/>
<path d="M369,24.3 L379.5,15.6" fill="none" stroke="#e8ecf0" stroke-width="1.4" opacity="0.9"/>
<path d="M322,18.5 C330,17 340,17 348,19" fill="none" stroke="#9aa6b4" stroke-width="0.6" />
<text x="353.4" y="37.5" font-size="10" fill="#d3262e" text-anchor="middle" >Cry-gel</text>
<text x="376.8" y="50.3" font-size="8.4" fill="#fff" text-anchor="middle" >1 cm</text>
<line x1="371.8" y1="53.9" x2="385.7" y2="53.9" stroke="#ddd" stroke-width="1.6" />
<rect x="272.3" y="0.5" width="170.7" height="136.7" fill="none" stroke="#3c3c3c" stroke-width="1"/>
<line x1="272.3" y1="127.4" x2="275.3" y2="127.4" stroke="#3c3c3c" stroke-width="1" />
<text x="267.8" y="131.1" font-size="10.3" fill="#231f20" text-anchor="end" >0</text>
<line x1="272.3" y1="106.6" x2="275.3" y2="106.6" stroke="#3c3c3c" stroke-width="1" />
<text x="267.8" y="110.2" font-size="10.3" fill="#231f20" text-anchor="end" >5</text>
<line x1="272.3" y1="85.7" x2="275.3" y2="85.7" stroke="#3c3c3c" stroke-width="1" />
<text x="267.8" y="89.4" font-size="10.3" fill="#231f20" text-anchor="end" >10</text>
<line x1="272.3" y1="64.9" x2="275.3" y2="64.9" stroke="#3c3c3c" stroke-width="1" />
<text x="267.8" y="68.5" font-size="10.3" fill="#231f20" text-anchor="end" >15</text>
<line x1="272.3" y1="44.0" x2="275.3" y2="44.0" stroke="#3c3c3c" stroke-width="1" />
<text x="267.8" y="47.7" font-size="10.3" fill="#231f20" text-anchor="end" >20</text>
<line x1="272.3" y1="23.2" x2="275.3" y2="23.2" stroke="#3c3c3c" stroke-width="1" />
<text x="267.8" y="26.8" font-size="10.3" fill="#231f20" text-anchor="end" >25</text>
<text x="267.8" y="8.7" font-size="10.3" fill="#231f20" text-anchor="end" >30</text>
<line x1="440.0" y1="134.6" x2="443.0" y2="134.6" stroke="#3c3c3c" stroke-width="1" />
<text x="445.4" y="138.3" font-size="10.3" fill="#231f20" text-anchor="start" >0</text>
<line x1="440.0" y1="115.6" x2="443.0" y2="115.6" stroke="#3c3c3c" stroke-width="1" />
<text x="445.4" y="119.3" font-size="10.3" fill="#231f20" text-anchor="start" >2</text>
<line x1="440.0" y1="96.6" x2="443.0" y2="96.6" stroke="#3c3c3c" stroke-width="1" />
<text x="445.4" y="100.3" font-size="10.3" fill="#231f20" text-anchor="start" >4</text>
<line x1="440.0" y1="77.6" x2="443.0" y2="77.6" stroke="#3c3c3c" stroke-width="1" />
<text x="445.4" y="81.3" font-size="10.3" fill="#231f20" text-anchor="start" >6</text>
<line x1="440.0" y1="58.6" x2="443.0" y2="58.6" stroke="#3c3c3c" stroke-width="1" />
<text x="445.4" y="62.3" font-size="10.3" fill="#231f20" text-anchor="start" >8</text>
<line x1="440.0" y1="39.6" x2="443.0" y2="39.6" stroke="#3c3c3c" stroke-width="1" />
<text x="445.4" y="43.3" font-size="10.3" fill="#231f20" text-anchor="start" >10</text>
<line x1="440.0" y1="20.6" x2="443.0" y2="20.6" stroke="#3c3c3c" stroke-width="1" />
<text x="445.4" y="24.3" font-size="10.3" fill="#231f20" text-anchor="start" >12</text>
<text x="445.4" y="7.9" font-size="10.3" fill="#231f20" text-anchor="start" >14</text>
<line x1="272.3" y1="137.2" x2="272.3" y2="134.2" stroke="#3c3c3c" stroke-width="1" />
<line x1="300.3" y1="137.2" x2="300.3" y2="134.2" stroke="#3c3c3c" stroke-width="1" />
<line x1="329.5" y1="137.2" x2="329.5" y2="134.2" stroke="#3c3c3c" stroke-width="1" />
<line x1="357.2" y1="137.2" x2="357.2" y2="134.2" stroke="#3c3c3c" stroke-width="1" />
<line x1="385.9" y1="137.2" x2="385.9" y2="134.2" stroke="#3c3c3c" stroke-width="1" />
<line x1="415.0" y1="137.2" x2="415.0" y2="134.2" stroke="#3c3c3c" stroke-width="1" />
<line x1="443.0" y1="137.2" x2="443.0" y2="134.2" stroke="#3c3c3c" stroke-width="1" />
<text x="276.0" y="149.5" font-size="10.3" fill="#231f20" text-anchor="middle" >25</text>
<text x="300.3" y="149.5" font-size="10.3" fill="#231f20" text-anchor="middle" >50</text>
<text x="329.5" y="149.5" font-size="10.3" fill="#231f20" text-anchor="middle" >75</text>
<text x="357.2" y="149.5" font-size="10.3" fill="#231f20" text-anchor="middle" >100</text>
<text x="385.9" y="149.5" font-size="10.3" fill="#231f20" text-anchor="middle" >75</text>
<text x="415.0" y="149.5" font-size="10.3" fill="#231f20" text-anchor="middle" >50</text>
<text x="438.5" y="149.5" font-size="10.3" fill="#231f20" text-anchor="middle" >25</text>
<defs><linearGradient id="ga3" gradientUnits="userSpaceOnUse" x1="300" y1="0" x2="334.1" y2="0"><stop offset="0" stop-color="#f6c4b6"/><stop offset="1" stop-color="#e0644c"/></linearGradient></defs>
<polygon points="300,155.2 327.1,154.5 327.1,153.4 334.1,155.5 327.1,157.6 327.1,156.5 300,155.8" fill="url(#ga3)"/>
<defs><linearGradient id="ga4" gradientUnits="userSpaceOnUse" x1="380" y1="0" x2="414.7" y2="0"><stop offset="0" stop-color="#ffffff"/><stop offset="1" stop-color="#5a86c4"/></linearGradient></defs>
<polygon points="380,155.0 407.7,154.3 407.7,153.20000000000002 414.7,155.3 407.7,157.4 407.7,156.3 380,155.60000000000002" fill="url(#ga4)"/>
<text x="363.0" y="168.7" font-size="10.1" fill="#231f20" text-anchor="middle" >Temperature (<tspan font-size="6" dy="-4.4">o</tspan><tspan dy="4.4">C</tspan> )</text>
<text x="246.3" y="73.0" font-size="10" fill="#231f20" text-anchor="middle" transform="rotate(-90 246.3 69.5)" >G'/G'' ( Pa )</text>
<text x="255.5" y="118.4" font-size="9.7" fill="#231f20" text-anchor="middle" transform="rotate(-90 255.5 115.0)" >×10<tspan font-size="7" dy="-4">4</tspan></text>
<text x="466.7" y="71.5" font-size="10" fill="#231f20" text-anchor="middle" transform="rotate(-90 466.7 68.0)" >G'/G'' ( Pa )</text>
<text x="463.5" y="126.9" font-size="9.7" fill="#231f20" text-anchor="middle" transform="rotate(-90 463.5 123.5)" >×10<tspan font-size="7" dy="-4">4</tspan></text>
<text x="331.3" y="72.0" font-size="9.5" fill="#231f20" text-anchor="middle" >Heating</text>
<text x="404.5" y="76.5" font-size="9.5" fill="#231f20" text-anchor="middle" >Cooling</text>
<line x1="327.9" y1="74.8" x2="332.4" y2="82.0" stroke="#e2725b" stroke-width="1.2" stroke-linecap="round"/>
<polygon points="334.8,85.8 331.0,82.9 333.8,81.1" fill="#e2725b"/>
<line x1="393.1" y1="84.5" x2="402.3" y2="80.3" stroke="#5b87c5" stroke-width="1.6" stroke-linecap="round"/>
<polygon points="406.8,78.2 403.1,82.1 401.4,78.5" fill="#5b87c5"/>
<text x="315.0" y="111.2" font-size="9.6" fill="#231f20" text-anchor="middle" >95 <tspan font-size="6" dy="-4.4">o</tspan><tspan dy="4.4">C</tspan></text>
<text x="390.8" y="129.6" font-size="9.6" fill="#231f20" text-anchor="middle" >90 <tspan font-size="6" dy="-4.4">o</tspan><tspan dy="4.4">C</tspan></text>
<line x1="397.0" y1="24.7" x2="417.0" y2="24.7" stroke="#d08a86" stroke-width="0.8" />
<circle cx="407.0" cy="24.7" r="1.9" fill="#b9443f" stroke="none" stroke-width="0.8"/>
<text x="421.0" y="28.6" font-size="10" fill="#231f20" text-anchor="start" >G'</text>
<line x1="397.0" y1="39.4" x2="417.0" y2="39.4" stroke="#d08a86" stroke-width="0.8" />
<circle cx="407.0" cy="39.4" r="1.7" fill="#fff" stroke="#c86a66" stroke-width="0.9"/>
<text x="421.0" y="43.2" font-size="10" fill="#231f20" text-anchor="start" >G''</text>
<text x="234.6" y="13.0" font-size="16.5" fill="#231f20" text-anchor="start" >b</text>
<path d="M683.0,97.0 C682.7,95.8 681.6,93.2 681.0,90.0 C680.4,86.8 680.2,81.3 679.5,78.0 C678.8,74.7 678.6,71.9 677.0,70.0 C675.4,68.1 672.8,67.6 670.0,66.5 C667.2,65.4 664.2,64.6 660.0,63.5 C655.8,62.4 649.2,60.9 645.0,60.0 C640.8,59.1 637.3,58.6 635.0,58.2 C632.7,57.8 632.0,57.9 631.0,57.4 C630.0,56.9 629.5,55.4 628.8,55.4 C628.0,55.4 628.8,57.0 626.5,57.3 C624.2,57.6 619.4,57.3 615.0,57.3 C610.6,57.3 604.2,57.3 600.0,57.3 C595.8,57.3 592.5,57.3 590.0,57.3 C587.5,57.2 588.8,57.0 585.0,57.0 C581.2,57.0 573.2,57.0 567.0,57.0 C560.8,57.0 553.8,57.0 548.0,57.0 C542.2,57.0 535.3,57.3 532.0,57.2 C528.7,57.1 529.3,56.5 528.0,56.5 C526.7,56.5 524.9,57.4 524.0,57.5 C523.1,57.6 522.9,59.9 522.5,57.0 C522.1,54.1 521.8,46.2 521.5,40.0 C521.2,33.8 520.9,20.0 520.6,20.0 C520.3,20.0 520.0,33.7 519.7,40.0 C519.4,46.3 519.2,54.3 518.8,58.0 C518.3,61.7 517.6,61.0 517.0,62.0 C516.4,63.0 515.6,63.3 515.0,64.0 C514.4,64.7 513.6,65.0 513.3,66.0 C513.0,67.0 513.2,68.7 513.3,70.0 C513.4,71.3 513.9,73.3 514.0,74.0" fill="none" stroke="#c0504d" stroke-width="1.5" stroke-linejoin="round"/>
<path d="M514.0,74.0 C514.3,74.7 515.0,77.0 516.0,78.0 C517.0,79.0 518.3,79.5 520.0,80.0 C521.7,80.5 524.1,80.6 526.0,81.0 C527.9,81.4 529.8,82.7 531.3,82.5 C532.8,82.3 533.9,81.9 535.0,80.0 C536.1,78.1 537.1,73.0 538.0,71.0 C538.9,69.0 539.8,68.1 540.6,67.9 C541.4,67.7 542.1,68.7 543.0,70.0 C543.9,71.3 544.8,73.9 546.0,76.0 C547.2,78.1 548.3,80.7 550.0,82.5 C551.7,84.3 553.8,85.7 556.0,87.0 C558.2,88.3 561.2,89.3 563.2,90.5 C565.2,91.7 566.4,92.2 568.0,94.0 C569.6,95.8 571.3,98.5 572.6,101.2 C573.9,103.9 575.1,107.1 576.0,110.0 C576.9,112.9 577.6,117.3 578.2,118.5 C578.8,119.7 579.0,119.2 579.5,117.0 C580.0,114.8 580.5,109.2 581.0,105.0 C581.5,100.8 582.1,95.0 582.5,92.0 C582.9,89.0 582.9,88.0 583.5,87.0 C584.1,86.0 584.9,86.2 586.0,86.0 C587.1,85.8 586.0,85.5 590.0,85.7 C594.0,86.0 603.3,86.9 610.0,87.5 C616.7,88.1 623.3,88.8 630.0,89.5 C636.7,90.2 644.2,91.0 650.0,91.8 C655.8,92.5 659.5,93.1 665.0,94.0 C670.5,94.9 680.0,96.5 683.0,97.0" fill="none" stroke="#c0504d" stroke-width="1.5" stroke-linejoin="round"/>
<path d="M683.0,97.0 C682.8,95.5 682.5,90.8 682.0,88.0 C681.5,85.2 681.0,82.2 680.0,80.0 C679.0,77.8 678.0,76.6 676.0,75.0 C674.0,73.4 671.5,71.9 668.0,70.5 C664.5,69.1 659.7,67.6 655.0,66.5 C650.3,65.4 645.8,64.7 640.0,64.0 C634.2,63.3 626.7,62.9 620.0,62.5 C613.3,62.1 605.8,61.7 600.0,61.5 C594.2,61.3 590.8,61.5 585.0,61.5 C579.2,61.5 568.8,61.3 565.0,61.3 C561.2,61.3 563.0,64.8 562.5,61.3 C562.0,57.8 562.2,47.5 562.0,40.0 C561.8,32.5 561.6,16.5 561.4,16.5 C561.2,16.5 560.9,32.8 560.7,40.0 C560.5,47.2 560.8,56.5 560.0,60.0 C559.2,63.5 559.3,60.7 556.0,61.0 C552.7,61.3 544.3,61.8 540.0,62.0 C535.7,62.2 532.5,62.4 530.0,62.5 C527.5,62.6 526.3,62.7 525.0,62.8 C523.7,62.9 522.8,64.3 522.0,63.0 C521.2,61.7 521.0,57.5 520.5,55.0 C520.0,52.5 519.7,47.9 519.3,47.9 C518.9,47.9 518.5,52.5 518.0,55.0 C517.5,57.5 517.1,61.3 516.5,63.0 C515.9,64.7 515.0,64.4 514.5,65.0 C514.0,65.6 513.5,66.2 513.3,66.5" fill="none" stroke="#2e6db0" stroke-width="1.5" stroke-linejoin="round"/>
<path d="M513.3,66.5 C513.6,67.4 514.2,70.4 515.0,72.0 C515.8,73.6 516.8,75.1 518.0,75.9 C519.2,76.7 520.7,76.8 522.0,77.0 C523.3,77.2 524.8,77.7 526.0,77.2 C527.2,76.7 528.1,76.2 529.0,74.0 C529.9,71.8 530.8,66.5 531.5,64.0 C532.2,61.5 532.8,59.1 533.4,59.1 C534.0,59.1 534.5,61.2 535.0,64.0 C535.5,66.8 535.6,73.7 536.6,75.9 C537.6,78.2 538.8,77.1 541.0,77.5 C543.2,77.9 547.2,78.0 550.0,78.5 C552.8,79.0 555.4,79.6 558.0,80.5 C560.6,81.4 563.6,83.1 565.9,83.9 C568.2,84.7 570.2,84.8 572.0,85.5 C573.8,86.2 575.3,86.8 576.6,87.9 C577.9,89.0 579.1,89.2 580.0,92.0 C580.9,94.8 581.5,100.3 582.0,105.0 C582.5,109.7 583.0,116.3 583.3,120.0 C583.6,123.7 583.7,127.6 584.0,127.3 C584.3,127.0 584.6,122.5 585.0,118.0 C585.4,113.5 585.9,104.6 586.3,100.0 C586.7,95.4 586.8,92.9 587.2,90.5 C587.6,88.1 587.7,86.4 588.5,85.5 C589.3,84.6 590.9,85.2 592.0,85.0 C593.1,84.8 594.0,84.3 595.0,84.0 C596.0,83.7 595.5,83.2 598.0,83.2 C600.5,83.2 604.7,83.5 610.0,84.0 C615.3,84.5 623.3,85.6 630.0,86.5 C636.7,87.4 644.2,88.5 650.0,89.5 C655.8,90.5 659.5,91.2 665.0,92.5 C670.5,93.8 680.0,96.2 683.0,97.0" fill="none" stroke="#2e6db0" stroke-width="1.5" stroke-linejoin="round"/>
<line x1="526.0" y1="75.9" x2="532.0" y2="76.7" stroke="#888" stroke-width="1" stroke-dasharray="1,1"/>
<line x1="535.3" y1="82.5" x2="550.0" y2="85.2" stroke="#888" stroke-width="1" stroke-dasharray="1,1"/>
<line x1="522.0" y1="25.1" x2="534.8" y2="15.5" stroke="#999" stroke-width="0.6" />
<line x1="565.9" y1="28.0" x2="581.9" y2="19.5" stroke="#999" stroke-width="0.6" />
<line x1="536.6" y1="45.3" x2="534.0" y2="59.9" stroke="#999" stroke-width="0.6" />
<line x1="543.3" y1="69.8" x2="552.6" y2="68.7" stroke="#999" stroke-width="0.6" />
<line x1="654.3" y1="77.0" x2="654.3" y2="91.1" stroke="#d1222a" stroke-width="1.2" stroke-dasharray="1.2,1.2"/>
<line x1="666.6" y1="87.6" x2="666.6" y2="101.1" stroke="#d1222a" stroke-width="1.2" stroke-dasharray="1.2,1.2"/>
<circle cx="682.7" cy="97.3" r="1.5" fill="#000" stroke="none" stroke-width="0.8"/>
<path d="M589.9,130.5 C582,133 575,130 571,124.8" fill="none" stroke="#e0464e" stroke-width="0.7" />
<polygon points="570.2,123.6 573.8,125.2 571.2,127" fill="#e0464e"/>
<line x1="512.8" y1="0.5" x2="683.4" y2="0.5" stroke="#3a3a3a" stroke-width="1.2" />
<line x1="683.4" y1="0.5" x2="683.4" y2="137.2" stroke="#3a3a3a" stroke-width="1.1" />
<line x1="512.8" y1="0.5" x2="512.8" y2="137.5" stroke="#8e8e8e" stroke-width="1.3" />
<line x1="512.8" y1="137.5" x2="683.4" y2="137.5" stroke="#8e8e8e" stroke-width="1.3" />
<line x1="512.8" y1="121.6" x2="515.8" y2="121.6" stroke="#8e8e8e" stroke-width="1" />
<text x="508.5" y="125.2" font-size="10" fill="#231f20" text-anchor="end" >-6</text>
<line x1="512.8" y1="97.4" x2="515.8" y2="97.4" stroke="#8e8e8e" stroke-width="1" />
<text x="508.5" y="101.0" font-size="10" fill="#231f20" text-anchor="end" >-3</text>
<line x1="512.8" y1="73.2" x2="515.8" y2="73.2" stroke="#8e8e8e" stroke-width="1" />
<text x="508.5" y="76.8" font-size="10" fill="#231f20" text-anchor="end" >0</text>
<line x1="512.8" y1="49.0" x2="515.8" y2="49.0" stroke="#8e8e8e" stroke-width="1" />
<text x="508.5" y="52.5" font-size="10" fill="#231f20" text-anchor="end" >3</text>
<line x1="512.8" y1="24.8" x2="515.8" y2="24.8" stroke="#8e8e8e" stroke-width="1" />
<text x="508.5" y="28.3" font-size="10" fill="#231f20" text-anchor="end" >6</text>
<text x="508.5" y="8.3" font-size="10" fill="#231f20" text-anchor="end" >9</text>
<line x1="530.3" y1="137.2" x2="530.3" y2="134.7" stroke="#9a9a9a" stroke-width="0.9" />
<text x="529.7" y="150.3" font-size="10.3" fill="#231f20" text-anchor="middle" >-60</text>
<line x1="555.7" y1="137.2" x2="555.7" y2="134.7" stroke="#9a9a9a" stroke-width="0.9" />
<text x="555.1" y="150.3" font-size="10.3" fill="#231f20" text-anchor="middle" >-30</text>
<line x1="581.1" y1="137.2" x2="581.1" y2="134.7" stroke="#9a9a9a" stroke-width="0.9" />
<text x="580.5" y="150.3" font-size="10.3" fill="#231f20" text-anchor="middle" >0</text>
<line x1="606.5" y1="137.2" x2="606.5" y2="134.7" stroke="#9a9a9a" stroke-width="0.9" />
<text x="605.9" y="150.3" font-size="10.3" fill="#231f20" text-anchor="middle" >30</text>
<line x1="631.9" y1="137.2" x2="631.9" y2="134.7" stroke="#9a9a9a" stroke-width="0.9" />
<text x="631.3" y="150.3" font-size="10.3" fill="#231f20" text-anchor="middle" >60</text>
<line x1="657.3" y1="137.2" x2="657.3" y2="134.7" stroke="#9a9a9a" stroke-width="0.9" />
<text x="656.7" y="150.3" font-size="10.3" fill="#231f20" text-anchor="middle" >90</text>
<line x1="682.7" y1="137.2" x2="682.7" y2="134.7" stroke="#9a9a9a" stroke-width="0.9" />
<text x="676.8" y="150.3" font-size="10.3" fill="#231f20" text-anchor="middle" >120</text>
<text x="599.9" y="164.6" font-size="10" fill="#231f20" text-anchor="middle" >Temperature (<tspan font-size="6" dy="-4.4">o</tspan><tspan dy="4.4">C</tspan> )</text>
<text x="492.3" y="77.5" font-size="10.4" fill="#231f20" text-anchor="middle" transform="rotate(-90 492.3 73.8)" >Heat flow (mW)</text>
<text x="492.5" y="26.8" font-size="9.5" fill="#231f20" text-anchor="middle" transform="rotate(-90 492.5 23.4)" >Exo</text>
<line x1="492.5" y1="15.0" x2="492.5" y2="9.0" stroke="#231f20" stroke-width="0.8" />
<polygon points="492.5,5 490.6,9.5 494.4,9.5" fill="#231f20"/>
<text x="538.4" y="15.2" font-size="9" fill="#231f20" text-anchor="middle" >−71.59 <tspan font-size="6" dy="-4.4">o</tspan><tspan dy="4.4">C</tspan></text>
<text x="590.0" y="15.2" font-size="9" fill="#231f20" text-anchor="middle" >−22.72 <tspan font-size="6" dy="-4.4">o</tspan><tspan dy="4.4">C</tspan></text>
<text x="541.0" y="43.2" font-size="9" fill="#231f20" text-anchor="middle" >−55.32 <tspan font-size="6" dy="-4.4">o</tspan><tspan dy="4.4">C</tspan></text>
<text x="572.0" y="73.0" font-size="9" fill="#231f20" text-anchor="middle" >−46.98 <tspan font-size="6" dy="-4.4">o</tspan><tspan dy="4.4">C</tspan></text>
<text x="553.2" y="123.0" font-size="9" fill="#231f20" text-anchor="middle" >−2.85 <tspan font-size="6" dy="-4.4">o</tspan><tspan dy="4.4">C</tspan></text>
<text x="607.0" y="131.8" font-size="9" fill="#231f20" text-anchor="middle" >3.66 <tspan font-size="6" dy="-4.4">o</tspan><tspan dy="4.4">C</tspan></text>
<text x="638.2" y="79.4" font-size="9" fill="#231f20" text-anchor="middle" >85 <tspan font-size="6" dy="-4.4">o</tspan><tspan dy="4.4">C</tspan></text>
<text x="665.3" y="114.5" font-size="9" fill="#231f20" text-anchor="middle" >100 <tspan font-size="6" dy="-4.4">o</tspan><tspan dy="4.4">C</tspan></text>
<line x1="626.6" y1="11.4" x2="640.7" y2="11.4" stroke="#2e6db0" stroke-width="1.5" />
<text x="645.9" y="14.7" font-size="9.3" fill="#231f20" text-anchor="start" >LiBr gel</text>
<line x1="626.6" y1="25.9" x2="640.7" y2="25.9" stroke="#c0504d" stroke-width="1.5" />
<text x="645.9" y="29.2" font-size="9.3" fill="#231f20" text-anchor="start" >Cry-gel</text>
<text x="473.3" y="10.7" font-size="16.5" fill="#231f20" text-anchor="start" >c</text>
<defs><filter id="soft" x="-10%" y="-10%" width="120%" height="120%"><feGaussianBlur stdDeviation="0.9"/></filter></defs>
<text x="-0.5" y="198.5" font-size="16.5" fill="#231f20" text-anchor="start" >d</text>
<defs>
<linearGradient id="gpink" x1="0" y1="0" x2="1" y2="0"><stop offset="0" stop-color="#e8c6bb"/><stop offset="0.5" stop-color="#f2e3df"/><stop offset="1" stop-color="#f8f3f3"/></linearGradient>
<linearGradient id="gblue" x1="0" y1="0" x2="1" y2="0"><stop offset="0" stop-color="#8298c8"/><stop offset="0.45" stop-color="#bfcae3"/><stop offset="0.85" stop-color="#fafafb"/><stop offset="1" stop-color="#ffffff"/></linearGradient>
</defs>
<rect x="89.3" y="205.8" width="51.6" height="55.8" fill="url(#gpink)" />
<rect x="89.3" y="275.0" width="44.0" height="55.8" fill="url(#gblue)" />
<defs><pattern id="gp1" x="37" y="212" width="14" height="14" patternUnits="userSpaceOnUse">
<rect width="14" height="14" fill="#d0dee3"/>
<path d="M2.8,0V14M5.6,0V14M9.8,0V14M12.6,0V14M0,2.8H14M0,5.6H14M0,9.8H14M0,12.6H14" stroke="#e4c6c0" stroke-width="0.4" opacity="0.6"/>
<path d="M7.5,0V14M0,7.5H14" stroke="#ecac9a" stroke-width="0.6"/>
<path d="M0.5,0V14M0,0.5H14" stroke="#eaa18c" stroke-width="0.8"/>
</pattern></defs>
<rect x="29.0" y="205.8" width="60.3" height="55.8" fill="url(#gp1)" />
<rect x="38.2" y="211.8" width="42.4" height="43.1" fill="#d2c2b2" opacity="0.5" filter="url(#soft)"/>
<defs><pattern id="gp2" x="151" y="211" width="14" height="14" patternUnits="userSpaceOnUse">
<rect width="14" height="14" fill="#d0dee3"/>
<path d="M2.8,0V14M5.6,0V14M9.8,0V14M12.6,0V14M0,2.8H14M0,5.6H14M0,9.8H14M0,12.6H14" stroke="#e4c6c0" stroke-width="0.4" opacity="0.6"/>
<path d="M7.5,0V14M0,7.5H14" stroke="#ecac9a" stroke-width="0.6"/>
<path d="M0.5,0V14M0,0.5H14" stroke="#eaa18c" stroke-width="0.8"/>
</pattern></defs>
<rect x="140.9" y="205.8" width="60.6" height="55.8" fill="url(#gp2)" />
<rect x="151.4" y="211.4" width="39.5" height="35.5" fill="#948a80" opacity="0.34" filter="url(#soft)"/>
<defs><pattern id="gp3" x="37.7" y="281" width="14" height="14" patternUnits="userSpaceOnUse">
<rect width="14" height="14" fill="#d0dee3"/>
<path d="M2.8,0V14M5.6,0V14M9.8,0V14M12.6,0V14M0,2.8H14M0,5.6H14M0,9.8H14M0,12.6H14" stroke="#e4c6c0" stroke-width="0.4" opacity="0.6"/>
<path d="M7.5,0V14M0,7.5H14" stroke="#ecac9a" stroke-width="0.6"/>
<path d="M0.5,0V14M0,0.5H14" stroke="#eaa18c" stroke-width="0.8"/>
</pattern></defs>
<rect x="29.0" y="275.0" width="60.3" height="55.8" fill="url(#gp3)" />
<rect x="38.2" y="281.4" width="42.0" height="42.0" fill="#d2c2b2" opacity="0.45" filter="url(#soft)"/>
<defs><pattern id="gp4" x="149" y="280.5" width="14" height="14" patternUnits="userSpaceOnUse">
<rect width="14" height="14" fill="#d0dee3"/>
<path d="M2.8,0V14M5.6,0V14M9.8,0V14M12.6,0V14M0,2.8H14M0,5.6H14M0,9.8H14M0,12.6H14" stroke="#e4c6c0" stroke-width="0.4" opacity="0.6"/>
<path d="M7.5,0V14M0,7.5H14" stroke="#ecac9a" stroke-width="0.6"/>
<path d="M0.5,0V14M0,0.5H14" stroke="#eaa18c" stroke-width="0.8"/>
</pattern></defs>
<rect x="141.2" y="275.0" width="60.2" height="56.2" fill="url(#gp4)" />
<rect x="149.4" y="280.9" width="43.7" height="43.1" fill="#cfbaa8" opacity="0.5" filter="url(#soft)"/>
<text x="73.0" y="255.3" font-size="8.5" fill="#231f20" text-anchor="middle" >1 cm</text>
<line x1="66.5" y1="258.3" x2="79.5" y2="258.3" stroke="#231f20" stroke-width="1.4" />
<text x="186.6" y="255.3" font-size="8.5" fill="#231f20" text-anchor="middle" >1 cm</text>
<line x1="179.4" y1="257.7" x2="193.7" y2="257.7" stroke="#231f20" stroke-width="1.4" />
<text x="73.0" y="324.8" font-size="8.5" fill="#231f20" text-anchor="middle" >1 cm</text>
<line x1="66.5" y1="327.5" x2="79.5" y2="327.5" stroke="#231f20" stroke-width="1.4" />
<text x="186.2" y="324.6" font-size="8.5" fill="#231f20" text-anchor="middle" >1 cm</text>
<line x1="179.5" y1="326.9" x2="193.0" y2="326.9" stroke="#231f20" stroke-width="1.4" />
<rect x="27.6" y="204.6" width="175.6" height="57.8" fill="none" stroke="#e0636f" stroke-width="1.5" stroke-dasharray="3.1,3.9"/>
<rect x="27.6" y="273.7" width="175.6" height="58.4" fill="none" stroke="#5d8fcb" stroke-width="1.5" stroke-dasharray="3,4.3"/>
<text x="114.7" y="222.2" font-size="10" fill="#231f20" text-anchor="middle" >50 h</text>
<text x="114.7" y="253.2" font-size="10" fill="#231f20" text-anchor="middle" >80 <tspan font-size="6" dy="-4.4">o</tspan><tspan dy="4.4">C</tspan></text>
<polygon points="107,231.8 117.5,231.8 117.5,228.2 126,234.5 117.5,240.8 117.5,237.2 107,237.2" fill="#c8202e"/>
<text x="114.3" y="288.9" font-size="10" fill="#231f20" text-anchor="middle" >6 d</text>
<text x="116.0" y="320.6" font-size="10" fill="#231f20" text-anchor="middle" >−40 <tspan font-size="6" dy="-4.4">o</tspan><tspan dy="4.4">C</tspan></text>
<polygon points="106.5,298.8 117,298.8 117,295.2 125.5,301.5 117,307.8 117,304.2 106.5,304.2" fill="#2b6cb0"/>
<path d="M277,213 C282,206 300,209 320,211 C345,213 360,210 380,214 C400,218 420,215 438,215.5 C446,217 446,229 438,229.5 C420,230 400,234 380,230 C360,226 345,226 320,225 C300,224 285,227 278,224 C273,221 273,216 277,213 Z" fill="#f5e0d6" stroke="none" stroke-width="0" />
<rect x="276.8" y="213.1" width="4.4" height="4.4" fill="#e87c45" />
<rect x="296.1" y="217.5" width="4.4" height="4.4" fill="#e87c45" />
<rect x="315.3" y="217.5" width="4.4" height="4.4" fill="#e87c45" />
<rect x="334.6" y="216.7" width="4.4" height="4.4" fill="#e87c45" />
<rect x="353.9" y="217.5" width="4.4" height="4.4" fill="#e87c45" />
<rect x="373.1" y="225.1" width="4.4" height="4.4" fill="#e87c45" />
<rect x="392.4" y="223.9" width="4.4" height="4.4" fill="#e87c45" />
<rect x="411.6" y="222.7" width="4.4" height="4.4" fill="#e87c45" />
<rect x="430.9" y="225.1" width="4.4" height="4.4" fill="#e87c45" />
<polygon points="279.02,219.10 279.76,220.88 281.68,221.03 280.22,222.29 280.67,224.17 279.02,223.16 277.37,224.17 277.82,222.29 276.36,221.03 278.28,220.88" fill="#fff" stroke="#e87c45" stroke-width="0.7" stroke-linejoin="round"/>
<polygon points="298.28,214.30 299.02,216.08 300.94,216.23 299.48,217.49 299.93,219.37 298.28,218.36 296.63,219.37 297.08,217.49 295.62,216.23 297.54,216.08" fill="#fff" stroke="#e87c45" stroke-width="0.7" stroke-linejoin="round"/>
<polygon points="317.54,214.90 318.28,216.68 320.20,216.83 318.74,218.09 319.19,219.97 317.54,218.96 315.89,219.97 316.34,218.09 314.88,216.83 316.80,216.68" fill="#fff" stroke="#e87c45" stroke-width="0.7" stroke-linejoin="round"/>
<polygon points="336.80,214.30 337.54,216.08 339.46,216.23 338.00,217.49 338.45,219.37 336.80,218.36 335.15,219.37 335.60,217.49 334.14,216.23 336.06,216.08" fill="#fff" stroke="#e87c45" stroke-width="0.7" stroke-linejoin="round"/>
<polygon points="356.06,214.30 356.80,216.08 358.72,216.23 357.26,217.49 357.71,219.37 356.06,218.36 354.41,219.37 354.86,217.49 353.40,216.23 355.32,216.08" fill="#fff" stroke="#e87c45" stroke-width="0.7" stroke-linejoin="round"/>
<polygon points="375.32,219.70 376.06,221.48 377.98,221.63 376.52,222.89 376.97,224.77 375.32,223.76 373.67,224.77 374.12,222.89 372.66,221.63 374.58,221.48" fill="#fff" stroke="#e87c45" stroke-width="0.7" stroke-linejoin="round"/>
<polygon points="394.58,225.10 395.32,226.88 397.24,227.03 395.78,228.29 396.23,230.17 394.58,229.16 392.93,230.17 393.38,228.29 391.92,227.03 393.84,226.88" fill="#fff" stroke="#e87c45" stroke-width="0.7" stroke-linejoin="round"/>
<polygon points="413.84,219.70 414.58,221.48 416.50,221.63 415.04,222.89 415.49,224.77 413.84,223.76 412.19,224.77 412.64,222.89 411.18,221.63 413.10,221.48" fill="#fff" stroke="#e87c45" stroke-width="0.7" stroke-linejoin="round"/>
<polygon points="433.10,219.70 433.84,221.48 435.76,221.63 434.30,222.89 434.75,224.77 433.10,223.76 431.45,224.77 431.90,222.89 430.44,221.63 432.36,221.48" fill="#fff" stroke="#e87c45" stroke-width="0.7" stroke-linejoin="round"/>
<rect x="272.3" y="197.4" width="170.5" height="137.9" fill="none" stroke="#3c3c3c" stroke-width="1"/>
<line x1="272.3" y1="335.3" x2="275.3" y2="335.3" stroke="#3c3c3c" stroke-width="1" />
<text x="267.8" y="338.9" font-size="10" fill="#231f20" text-anchor="end" >0</text>
<line x1="272.3" y1="305.3" x2="275.3" y2="305.3" stroke="#3c3c3c" stroke-width="1" />
<text x="267.8" y="308.9" font-size="10" fill="#231f20" text-anchor="end" >25</text>
<line x1="272.3" y1="275.3" x2="275.3" y2="275.3" stroke="#3c3c3c" stroke-width="1" />
<text x="267.8" y="278.9" font-size="10" fill="#231f20" text-anchor="end" >50</text>
<line x1="272.3" y1="245.3" x2="275.3" y2="245.3" stroke="#3c3c3c" stroke-width="1" />
<text x="267.8" y="248.9" font-size="10" fill="#231f20" text-anchor="end" >75</text>
<line x1="272.3" y1="215.3" x2="275.3" y2="215.3" stroke="#3c3c3c" stroke-width="1" />
<text x="267.8" y="218.9" font-size="10" fill="#231f20" text-anchor="end" >100</text>
<line x1="304.7" y1="335.3" x2="304.7" y2="332.3" stroke="#3c3c3c" stroke-width="1" />
<text x="304.7" y="346.6" font-size="10" fill="#231f20" text-anchor="middle" >10</text>
<line x1="336.8" y1="335.3" x2="336.8" y2="332.3" stroke="#3c3c3c" stroke-width="1" />
<text x="336.8" y="346.6" font-size="10" fill="#231f20" text-anchor="middle" >20</text>
<line x1="368.9" y1="335.3" x2="368.9" y2="332.3" stroke="#3c3c3c" stroke-width="1" />
<text x="368.9" y="346.6" font-size="10" fill="#231f20" text-anchor="middle" >30</text>
<line x1="401.0" y1="335.3" x2="401.0" y2="332.3" stroke="#3c3c3c" stroke-width="1" />
<text x="401.0" y="346.6" font-size="10" fill="#231f20" text-anchor="middle" >40</text>
<line x1="433.1" y1="335.3" x2="433.1" y2="332.3" stroke="#3c3c3c" stroke-width="1" />
<text x="433.1" y="346.6" font-size="10" fill="#231f20" text-anchor="middle" >50</text>
<text x="351.0" y="360.5" font-size="9.8" fill="#231f20" text-anchor="middle" >Time (h)</text>
<text x="242.6" y="266.0" font-size="10.2" fill="#231f20" text-anchor="middle" transform="rotate(-90 242.6 262.4)" >Dimensional retention (%)</text>
<rect x="282.0" y="312.8" width="4.4" height="4.4" fill="#e87c45" />
<text x="294.7" y="318.6" font-size="10" fill="#231f20" text-anchor="start" >Length</text>
<polygon points="340.00,312.50 340.74,314.28 342.66,314.43 341.20,315.69 341.65,317.57 340.00,316.56 338.35,317.57 338.80,315.69 337.34,314.43 339.26,314.28" fill="#fff" stroke="#e87c45" stroke-width="0.7" stroke-linejoin="round"/>
<text x="350.0" y="318.6" font-size="10" fill="#231f20" text-anchor="start" >Width</text>
<text x="415.5" y="257.9" font-size="10" fill="#d2313a" text-anchor="middle" >80 <tspan font-size="6" dy="-4.4">o</tspan><tspan dy="4.4">C</tspan></text>
<text x="235.8" y="193.1" font-size="16.5" fill="#231f20" text-anchor="start" >e</text>
<path d="M518,213.5 C525,210 540,212.5 560,213 C590,213.5 620,212 650,212.5 C670,212.5 680,211.5 682,214 L682,225.5 C670,227.5 650,226.5 620,225.5 C590,226.5 560,226 540,226 C528,225.5 520,228 516,225 C513,221 513,215.5 518,213.5 Z" fill="#e2e6f3" stroke="none" stroke-width="0" />
<rect x="515.6" y="218.4" width="4.4" height="4.4" fill="#2a6aad" />
<polygon points="517.75,218.90 518.28,220.17 519.66,220.28 518.61,221.18 518.93,222.52 517.75,221.80 516.58,222.52 516.90,221.18 515.85,220.28 517.22,220.17" fill="#fff" stroke="none" stroke-width="0" stroke-linejoin="round"/>
<rect x="537.3" y="218.4" width="4.4" height="4.4" fill="#2a6aad" />
<polygon points="539.50,218.90 540.03,220.17 541.40,220.28 540.36,221.18 540.68,222.52 539.50,221.80 538.32,222.52 538.64,221.18 537.60,220.28 538.97,220.17" fill="#fff" stroke="none" stroke-width="0" stroke-linejoin="round"/>
<rect x="563.5" y="218.4" width="4.4" height="4.4" fill="#2a6aad" />
<polygon points="565.70,218.90 566.23,220.17 567.60,220.28 566.56,221.18 566.88,222.52 565.70,221.80 564.52,222.52 564.84,221.18 563.80,220.28 565.17,220.17" fill="#fff" stroke="none" stroke-width="0" stroke-linejoin="round"/>
<rect x="589.7" y="218.4" width="4.4" height="4.4" fill="#2a6aad" />
<polygon points="591.90,218.90 592.43,220.17 593.80,220.28 592.76,221.18 593.08,222.52 591.90,221.80 590.72,222.52 591.04,221.18 590.00,220.28 591.37,220.17" fill="#fff" stroke="none" stroke-width="0" stroke-linejoin="round"/>
<rect x="615.9" y="218.4" width="4.4" height="4.4" fill="#2a6aad" />
<polygon points="618.10,218.90 618.63,220.17 620.00,220.28 618.96,221.18 619.28,222.52 618.10,221.80 616.92,222.52 617.24,221.18 616.20,220.28 617.57,220.17" fill="#fff" stroke="none" stroke-width="0" stroke-linejoin="round"/>
<rect x="642.1" y="218.4" width="4.4" height="4.4" fill="#2a6aad" />
<polygon points="644.30,218.90 644.83,220.17 646.20,220.28 645.16,221.18 645.48,222.52 644.30,221.80 643.12,222.52 643.44,221.18 642.40,220.28 643.77,220.17" fill="#fff" stroke="none" stroke-width="0" stroke-linejoin="round"/>
<rect x="668.3" y="218.4" width="4.4" height="4.4" fill="#2a6aad" />
<polygon points="670.50,218.90 671.03,220.17 672.40,220.28 671.36,221.18 671.68,222.52 670.50,221.80 669.32,222.52 669.64,221.18 668.60,220.28 669.97,220.17" fill="#fff" stroke="none" stroke-width="0" stroke-linejoin="round"/>
<rect x="513.3" y="197.4" width="170.30000000000007" height="137.9" fill="none" stroke="#3c3c3c" stroke-width="1"/>
<line x1="513.3" y1="335.3" x2="516.3" y2="335.3" stroke="#3c3c3c" stroke-width="1" />
<text x="508.5" y="338.9" font-size="10" fill="#231f20" text-anchor="end" >0</text>
<line x1="513.3" y1="306.6" x2="516.3" y2="306.6" stroke="#3c3c3c" stroke-width="1" />
<text x="508.5" y="310.2" font-size="10" fill="#231f20" text-anchor="end" >25</text>
<line x1="513.3" y1="277.9" x2="516.3" y2="277.9" stroke="#3c3c3c" stroke-width="1" />
<text x="508.5" y="281.5" font-size="10" fill="#231f20" text-anchor="end" >50</text>
<line x1="513.3" y1="249.3" x2="516.3" y2="249.3" stroke="#3c3c3c" stroke-width="1" />
<text x="508.5" y="252.8" font-size="10" fill="#231f20" text-anchor="end" >75</text>
<line x1="513.3" y1="220.6" x2="516.3" y2="220.6" stroke="#3c3c3c" stroke-width="1" />
<text x="508.5" y="224.2" font-size="10" fill="#231f20" text-anchor="end" >100</text>
<line x1="539.5" y1="335.3" x2="539.5" y2="332.3" stroke="#3c3c3c" stroke-width="1" />
<text x="539.5" y="346.6" font-size="10" fill="#231f20" text-anchor="middle" >1</text>
<line x1="565.7" y1="335.3" x2="565.7" y2="332.3" stroke="#3c3c3c" stroke-width="1" />
<text x="565.7" y="346.6" font-size="10" fill="#231f20" text-anchor="middle" >2</text>
<line x1="591.9" y1="335.3" x2="591.9" y2="332.3" stroke="#3c3c3c" stroke-width="1" />
<text x="591.9" y="346.6" font-size="10" fill="#231f20" text-anchor="middle" >3</text>
<line x1="618.1" y1="335.3" x2="618.1" y2="332.3" stroke="#3c3c3c" stroke-width="1" />
<text x="618.1" y="346.6" font-size="10" fill="#231f20" text-anchor="middle" >4</text>
<line x1="644.3" y1="335.3" x2="644.3" y2="332.3" stroke="#3c3c3c" stroke-width="1" />
<text x="644.3" y="346.6" font-size="10" fill="#231f20" text-anchor="middle" >5</text>
<line x1="670.5" y1="335.3" x2="670.5" y2="332.3" stroke="#3c3c3c" stroke-width="1" />
<text x="670.5" y="346.6" font-size="10" fill="#231f20" text-anchor="middle" >6</text>
<text x="602.5" y="360.5" font-size="9.8" fill="#231f20" text-anchor="middle" >Time (d)</text>
<text x="482.5" y="268.1" font-size="10.1" fill="#231f20" text-anchor="middle" transform="rotate(-90 482.5 264.5)" >Dimensional retention (%)</text>
<rect x="522.8" y="310.7" width="4.4" height="4.4" fill="#2a6aad" />
<text x="534.8" y="317.2" font-size="10" fill="#231f20" text-anchor="start" >Length</text>
<polygon points="582.50,310.30 583.24,312.08 585.16,312.23 583.70,313.49 584.15,315.37 582.50,314.36 580.85,315.37 581.30,313.49 579.84,312.23 581.76,312.08" fill="#fff" stroke="#2a6aad" stroke-width="0.7" stroke-linejoin="round"/>
<text x="592.6" y="317.2" font-size="10" fill="#231f20" text-anchor="start" >Width</text>
<text x="654.5" y="256.6" font-size="10" fill="#2f6eb0" text-anchor="middle" >−40 <tspan font-size="6" dy="-4.4">o</tspan><tspan dy="4.4">C</tspan></text>
<text x="473.0" y="196.9" font-size="16.5" fill="#231f20" text-anchor="start" >f</text>
<rect x="478.0" y="270.2" width="7.0" height="1.9" fill="#a4a4a4" />
<text x="-0.3" y="385.2" font-size="16.5" fill="#231f20" text-anchor="start" >g</text>
<line x1="31.3" y1="507.0" x2="31.3" y2="389.0" stroke="#231f20" stroke-width="1.3" />
<polygon points="31.3,382.5 28,390.5 34.6,390.5" fill="#231f20"/>
<line x1="31.3" y1="507.0" x2="174.0" y2="507.0" stroke="#231f20" stroke-width="1.3" />
<polygon points="181,507 173,503.7 173,510.3" fill="#231f20"/>
<text x="16.0" y="451.4" font-size="10" fill="#231f20" text-anchor="middle" transform="rotate(-90 16.0 447.8)" >Thermal energy</text>
<text x="108.2" y="521.9" font-size="10" fill="#231f20" text-anchor="middle" >Reaction pathway</text>
<line x1="78.0" y1="477.6" x2="148.0" y2="477.6" stroke="#d0343c" stroke-width="0.9" stroke-dasharray="3,2.2"/>
<line x1="113.4" y1="409.0" x2="113.4" y2="477.6" stroke="#d0343c" stroke-width="0.9" stroke-dasharray="3,2.2"/>
<path d="M55.6,474.4 C57.7,474.8 64.3,476.5 68.0,477.0 C71.7,477.5 74.7,478.4 78.0,477.6 C81.3,476.8 85.0,474.9 88.0,472.0 C91.0,469.1 93.7,465.3 96.0,460.0 C98.3,454.7 100.2,446.7 102.0,440.0 C103.8,433.3 105.2,425.2 106.5,420.0 C107.8,414.8 108.9,411.3 110.0,409.0 C111.1,406.7 112.1,406.2 113.2,406.2 C114.3,406.2 115.4,407.0 116.5,409.0 C117.6,411.0 118.6,414.0 120.0,418.0 C121.4,422.0 123.3,428.0 125.0,433.0 C126.7,438.0 128.2,443.0 130.0,448.0 C131.8,453.0 134.0,458.0 136.0,463.0 C138.0,468.0 140.0,473.6 142.0,478.0 C144.0,482.4 145.8,486.6 148.0,489.5 C150.2,492.4 152.5,493.9 155.0,495.5 C157.5,497.1 160.5,498.3 163.0,499.0 C165.5,499.7 167.7,499.6 170.0,499.5 C172.3,499.4 175.8,498.6 177.0,498.4" fill="none" stroke="#c8262e" stroke-width="1.3" />
<text x="111.2" y="492.9" font-size="9.2" fill="#c8323a" text-anchor="middle" >Energy barrier</text>
<text x="61.0" y="402.9" font-size="9.5" fill="#231f20" text-anchor="middle" >Disruption of</text>
<text x="61.0" y="414.0" font-size="9.5" fill="#231f20" text-anchor="middle" >network</text>
<text x="174.2" y="429.6" font-size="9.5" fill="#231f20" text-anchor="middle" >Reconstructing</text>
<text x="174.2" y="442.0" font-size="9.5" fill="#231f20" text-anchor="middle" >network</text>
<line x1="86.7" y1="445.2" x2="95.3" y2="420.0" stroke="#eb8a64" stroke-width="1.3" stroke-linecap="round"/>
<polygon points="97.1,414.8 97.2,420.7 93.4,419.4" fill="#eb8a64"/>
<line x1="135.3" y1="419.5" x2="144.6" y2="445.3" stroke="#eb8a64" stroke-width="1.3" stroke-linecap="round"/>
<polygon points="146.5,450.5 142.8,446.0 146.5,444.6" fill="#eb8a64"/>
<defs><linearGradient id="nb11" x1="0" y1="0" x2="0" y2="1"><stop offset="0" stop-color="#a9c1e4"/><stop offset="1" stop-color="#a6bde2"/></linearGradient><clipPath id="cnb11"><rect x="92.9" y="360.5" width="41.9" height="41.3" rx="5"/></clipPath></defs>
<rect x="92.9" y="360.5" width="41.9" height="41.3" rx="5" fill="url(#nb11)"/>
<g clip-path="url(#cnb11)"><g transform="translate(92.9,360.5) scale(1.0096,0.9952)">
<path d="M0.0,8.8 C2.5,9.0 10.5,8.8 15.0,9.7 C19.5,10.6 22.5,13.4 27.0,14.3 C31.5,15.2 39.5,15.0 42.0,15.2" fill="none" stroke="#36669a" stroke-width="0.85"/>
<path d="M0.0,16.9 C2.2,16.8 10.5,17.4 13.3,16.5 C16.1,15.6 14.6,12.4 16.9,11.4 C19.2,10.4 22.8,10.9 27.0,10.5 C31.2,10.1 39.5,9.0 42.0,8.7" fill="none" stroke="#36669a" stroke-width="0.85"/>
<path d="M0.0,24.2 C1.0,24.5 3.4,25.6 5.9,26.0 C8.4,26.4 12.0,27.3 15.0,26.9 C18.1,26.4 19.7,23.8 24.2,23.3 C28.7,22.9 39.0,24.1 42.0,24.2" fill="none" stroke="#36669a" stroke-width="0.85"/>
<path d="M0.0,24.2 C0.7,25.4 2.3,29.7 4.1,31.5 C5.8,33.3 7.9,34.4 10.5,35.2 C13.1,36.0 16.6,36.4 19.7,36.1 C22.8,35.8 25.1,34.2 28.8,33.4 C32.5,32.6 39.8,31.8 42.0,31.5" fill="none" stroke="#36669a" stroke-width="0.85"/>
<path d="M0.0,34.3 C2.5,34.1 11.7,34.8 15.0,33.4 C18.3,32.0 18.2,28.4 19.7,26.0 C21.2,23.6 21.9,20.7 24.2,18.7 C26.5,16.7 30.4,15.7 33.4,14.2 C36.4,12.7 40.6,10.4 42.0,9.7" fill="none" stroke="#36669a" stroke-width="0.85"/>
<path d="M15.0,29.7 C17.0,29.9 22.5,31.1 27.0,30.6 C31.5,30.1 39.5,27.5 42.0,26.9" fill="none" stroke="#36669a" stroke-width="0.85"/>
<path d="M0.0,37.5 C2.5,37.5 10.3,37.5 15.0,37.8 C19.7,38.1 23.5,39.4 28.0,39.5 C32.5,39.6 39.7,38.4 42.0,38.2" fill="none" stroke="#36669a" stroke-width="0.85"/>
<circle cx="8.7" cy="5.5" r="1.3" fill="#e9a072"/>
<circle cx="24.2" cy="24.2" r="1.3" fill="#e9a072"/>
<circle cx="19.7" cy="33.8" r="1.3" fill="#e9a072"/>
<circle cx="37" cy="36.1" r="1.3" fill="#e9a072"/>
<circle cx="11.9" cy="6.9" r="1.4" fill="#b592c9"/>
<circle cx="23.8" cy="4.1" r="1.4" fill="#b592c9"/>
<circle cx="27.4" cy="16" r="1.4" fill="#b592c9"/>
<circle cx="20.6" cy="19.2" r="1.4" fill="#b592c9"/>
<circle cx="5.5" cy="21" r="1.4" fill="#b592c9"/>
<circle cx="36.1" cy="19.7" r="1.4" fill="#b592c9"/>
<circle cx="31.5" cy="25.1" r="1.4" fill="#b592c9"/>
<circle cx="30.6" cy="37" r="1.4" fill="#b592c9"/>
<circle cx="15" cy="39.8" r="1.4" fill="#b592c9"/>
<circle cx="22.9" cy="39.8" r="1.4" fill="#b592c9"/>
<circle cx="15.5" cy="5" r="1.3" fill="#92c05a"/>
<circle cx="33.8" cy="3.2" r="1.3" fill="#92c05a"/>
<circle cx="7.3" cy="13.7" r="1.3" fill="#92c05a"/>
<circle cx="32.5" cy="12.1" r="1.3" fill="#92c05a"/>
<circle cx="37" cy="16" r="1.3" fill="#92c05a"/>
<circle cx="7.8" cy="23.8" r="1.3" fill="#92c05a"/>
<circle cx="12.8" cy="27" r="1.3" fill="#92c05a"/>
<circle cx="14.6" cy="28.8" r="1.3" fill="#92c05a"/>
<circle cx="28.3" cy="25.6" r="1.3" fill="#92c05a"/>
<circle cx="33.8" cy="34.7" r="1.3" fill="#92c05a"/>
<circle cx="7.8" cy="40.2" r="1.3" fill="#92c05a"/>
<circle cx="19.7" cy="6.9" r="1.7" fill="#d4621e"/>
<circle cx="32" cy="18.3" r="1.7" fill="#d4621e"/>
<circle cx="9.1" cy="30.2" r="1.7" fill="#d4621e"/>
<circle cx="27" cy="9.6" r="1.35" fill="#d41e24"/><circle cx="25.7" cy="9.0" r="0.6" fill="#fff"/><circle cx="27.3" cy="8.1" r="0.6" fill="#fff"/>
<circle cx="11.4" cy="13.7" r="1.35" fill="#d41e24"/><circle cx="10.1" cy="13.1" r="0.6" fill="#fff"/><circle cx="11.700000000000001" cy="12.2" r="0.6" fill="#fff"/>
<circle cx="17.4" cy="22.4" r="1.35" fill="#d41e24"/><circle cx="16.099999999999998" cy="21.799999999999997" r="0.6" fill="#fff"/><circle cx="17.7" cy="20.9" r="0.6" fill="#fff"/>
<circle cx="28.3" cy="34.3" r="1.35" fill="#d41e24"/><circle cx="27.0" cy="33.699999999999996" r="0.6" fill="#fff"/><circle cx="28.6" cy="32.8" r="0.6" fill="#fff"/>
</g></g>
<defs><linearGradient id="nb12" x1="0" y1="0" x2="0" y2="1"><stop offset="0" stop-color="#a9c1e4"/><stop offset="1" stop-color="#a6bde2"/></linearGradient><clipPath id="cnb12"><rect x="34.1" y="434.1" width="41.6" height="39.8" rx="5"/></clipPath></defs>
<rect x="34.1" y="434.1" width="41.6" height="39.8" rx="5" fill="url(#nb12)"/>
<g clip-path="url(#cnb12)"><g transform="translate(34.1,434.1) scale(1.0024,0.9590)">
<path d="M3.0,12.0 C3.5,13.7 4.8,19.0 6.0,22.0 C7.2,25.0 9.0,27.0 10.0,30.0 C11.0,33.0 11.7,38.3 12.0,40.0" fill="none" stroke="#8aa6d2" stroke-width="0.7"/>
<path d="M20.0,25.0 C21.3,24.8 25.3,23.7 28.0,24.0 C30.7,24.3 33.7,26.7 36.0,27.0 C38.3,27.3 41.0,26.2 42.0,26.0" fill="none" stroke="#8aa6d2" stroke-width="0.7"/>
<path d="M2.0,30.0 C3.3,30.5 7.3,31.7 10.0,33.0 C12.7,34.3 16.7,37.2 18.0,38.0" fill="none" stroke="#8aa6d2" stroke-width="0.7"/>
<path d="M2.7,3.2 C3.2,3.9 4.7,6.2 5.9,7.3 C7.1,8.4 8.5,9.1 10.0,10.0 C11.5,10.9 13.4,12.2 15.0,12.8 C16.6,13.4 18.1,13.9 19.6,13.7 C21.1,13.5 23.0,12.2 24.2,11.4 C25.4,10.6 25.5,9.8 26.9,9.1 C28.3,8.3 31.1,7.3 32.5,6.9 C34.0,6.5 35.1,6.9 35.6,6.9" fill="none" stroke="#2f63a3" stroke-width="1.35" stroke-linecap="round"/>
<path d="M15.1,1.8 C16.0,2.0 19.2,2.1 20.6,2.7 C22.0,3.3 22.6,4.4 23.3,5.5 C24.1,6.6 24.5,8.0 25.1,9.1 C25.7,10.2 26.0,11.0 26.9,11.9 C27.8,12.8 28.9,13.7 30.6,14.6 C32.3,15.5 35.3,16.6 37.0,17.4 C38.7,18.2 40.3,18.9 41.0,19.2" fill="none" stroke="#2f63a3" stroke-width="1.35" stroke-linecap="round"/>
<path d="M5.9,0.9 C6.2,1.7 7.0,3.8 7.8,5.5 C8.6,7.2 9.9,9.3 10.5,11.0 C11.1,12.7 11.7,14.3 11.4,15.5 C11.1,16.7 9.3,17.2 8.7,18.3 C8.1,19.4 7.2,20.9 7.8,22.0 C8.4,23.1 10.9,23.6 12.3,24.7 C13.7,25.8 15.5,27.1 16.0,28.3 C16.5,29.5 16.5,30.8 15.1,32.0 C13.7,33.2 10.1,34.5 7.8,35.6 C5.5,36.7 2.5,37.9 1.4,38.4" fill="none" stroke="#2f63a3" stroke-width="1.35" stroke-linecap="round"/>
<path d="M30.6,0.0 C30.9,0.6 31.7,2.5 32.5,3.7 C33.3,4.9 34.8,6.7 35.2,7.3" fill="none" stroke="#2f63a3" stroke-width="1.35" stroke-linecap="round"/>
<path d="M40.7,9.1 C39.8,9.4 36.4,9.8 35.2,11.0 C34.0,12.2 33.9,14.5 33.4,16.5 C32.9,18.5 33.3,21.1 32.5,22.9 C31.7,24.7 30.3,26.3 28.8,27.4 C27.3,28.5 24.8,28.5 23.3,29.3 C21.8,30.1 20.5,30.3 19.7,32.0 C18.9,33.7 18.9,38.2 18.7,39.4" fill="none" stroke="#2f63a3" stroke-width="1.35" stroke-linecap="round"/>
<path d="M21.5,34.7 C22.4,34.6 24.9,34.2 27.0,33.8 C29.1,33.3 32.2,32.8 34.3,32.0 C36.4,31.2 39.0,28.9 39.8,29.3 C40.6,29.8 40.0,33.2 38.9,34.7 C37.8,36.2 35.5,37.6 33.4,38.4 C31.3,39.2 27.3,39.1 26.1,39.3" fill="none" stroke="#2f63a3" stroke-width="1.35" stroke-linecap="round"/>
<path d="M2.0,2.0 C2.5,2.2 4.0,2.9 5.0,3.5 C6.0,4.1 7.3,5.2 7.8,5.5" fill="none" stroke="#2f63a3" stroke-width="1.35" stroke-linecap="round"/>
<circle cx="10.5" cy="3.2" r="1.1" fill="#d61f26"/>
<circle cx="10.5" cy="6.4" r="1.1" fill="#d61f26"/>
<circle cx="3.2" cy="17" r="1.1" fill="#d61f26"/>
<circle cx="5" cy="35.2" r="1.1" fill="#d61f26"/>
<circle cx="33.4" cy="29.7" r="1.1" fill="#d61f26"/>
<rect x="27" y="1.6" width="3.2" height="1.5" fill="#d61f26"/>
<rect x="2.6" y="16.3" width="3.2" height="1.4" fill="#d61f26"/>
<line x1="14.2" y1="17.4" x2="16.4" y2="18.6" stroke="#1a1a1a" stroke-width="1.2" stroke-linecap="round"/>
<line x1="6.9" y1="25.6" x2="9.8" y2="28" stroke="#1a1a1a" stroke-width="1.2" stroke-linecap="round"/>
<line x1="37" y1="13.7" x2="38.4" y2="16.5" stroke="#1a1a1a" stroke-width="1.2" stroke-linecap="round"/>
<line x1="23.3" y1="20.6" x2="27.06" y2="21.97" stroke="#1a1a1a" stroke-width="0.8"/>
<circle cx="27.43" cy="22.11" r="0.95" fill="#d61f26"/>
<line x1="23.3" y1="20.6" x2="23.99" y2="24.54" stroke="#1a1a1a" stroke-width="0.8"/>
<circle cx="24.06" cy="24.93" r="0.95" fill="#d61f26"/>
<line x1="23.3" y1="20.6" x2="20.23" y2="23.17" stroke="#1a1a1a" stroke-width="0.8"/>
<circle cx="19.93" cy="23.43" r="0.95" fill="#d61f26"/>
<line x1="23.3" y1="20.6" x2="19.54" y2="19.23" stroke="#1a1a1a" stroke-width="0.8"/>
<circle cx="19.17" cy="19.09" r="0.95" fill="#d61f26"/>
<line x1="23.3" y1="20.6" x2="22.61" y2="16.66" stroke="#1a1a1a" stroke-width="0.8"/>
<circle cx="22.54" cy="16.27" r="0.95" fill="#d61f26"/>
<line x1="23.3" y1="20.6" x2="26.37" y2="18.03" stroke="#1a1a1a" stroke-width="0.8"/>
<circle cx="26.67" cy="17.77" r="0.95" fill="#d61f26"/>
<circle cx="23.3" cy="20.6" r="0.9" fill="#e0803a"/>
</g></g>
<defs><linearGradient id="nb13" x1="0" y1="0" x2="0" y2="1"><stop offset="0" stop-color="#a9c1e4"/><stop offset="1" stop-color="#a6bde2"/></linearGradient><clipPath id="cnb13"><rect x="155" y="454.4" width="42.6" height="40" rx="5"/></clipPath></defs>
<rect x="155" y="454.4" width="42.6" height="40" rx="5" fill="url(#nb13)"/>
<g clip-path="url(#cnb13)"><g transform="translate(155,454.4) scale(1.0265,0.9639)">
<path d="M3.0,12.0 C3.5,13.7 4.8,19.0 6.0,22.0 C7.2,25.0 9.0,27.0 10.0,30.0 C11.0,33.0 11.7,38.3 12.0,40.0" fill="none" stroke="#8aa6d2" stroke-width="0.7"/>
<path d="M20.0,25.0 C21.3,24.8 25.3,23.7 28.0,24.0 C30.7,24.3 33.7,26.7 36.0,27.0 C38.3,27.3 41.0,26.2 42.0,26.0" fill="none" stroke="#8aa6d2" stroke-width="0.7"/>
<path d="M2.0,30.0 C3.3,30.5 7.3,31.7 10.0,33.0 C12.7,34.3 16.7,37.2 18.0,38.0" fill="none" stroke="#8aa6d2" stroke-width="0.7"/>
<path d="M2.7,3.2 C3.2,3.9 4.7,6.2 5.9,7.3 C7.1,8.4 8.5,9.1 10.0,10.0 C11.5,10.9 13.4,12.2 15.0,12.8 C16.6,13.4 18.1,13.9 19.6,13.7 C21.1,13.5 23.0,12.2 24.2,11.4 C25.4,10.6 25.5,9.8 26.9,9.1 C28.3,8.3 31.1,7.3 32.5,6.9 C34.0,6.5 35.1,6.9 35.6,6.9" fill="none" stroke="#2f63a3" stroke-width="1.35" stroke-linecap="round"/>
<path d="M15.1,1.8 C16.0,2.0 19.2,2.1 20.6,2.7 C22.0,3.3 22.6,4.4 23.3,5.5 C24.1,6.6 24.5,8.0 25.1,9.1 C25.7,10.2 26.0,11.0 26.9,11.9 C27.8,12.8 28.9,13.7 30.6,14.6 C32.3,15.5 35.3,16.6 37.0,17.4 C38.7,18.2 40.3,18.9 41.0,19.2" fill="none" stroke="#2f63a3" stroke-width="1.35" stroke-linecap="round"/>
<path d="M5.9,0.9 C6.2,1.7 7.0,3.8 7.8,5.5 C8.6,7.2 9.9,9.3 10.5,11.0 C11.1,12.7 11.7,14.3 11.4,15.5 C11.1,16.7 9.3,17.2 8.7,18.3 C8.1,19.4 7.2,20.9 7.8,22.0 C8.4,23.1 10.9,23.6 12.3,24.7 C13.7,25.8 15.5,27.1 16.0,28.3 C16.5,29.5 16.5,30.8 15.1,32.0 C13.7,33.2 10.1,34.5 7.8,35.6 C5.5,36.7 2.5,37.9 1.4,38.4" fill="none" stroke="#2f63a3" stroke-width="1.35" stroke-linecap="round"/>
<path d="M30.6,0.0 C30.9,0.6 31.7,2.5 32.5,3.7 C33.3,4.9 34.8,6.7 35.2,7.3" fill="none" stroke="#2f63a3" stroke-width="1.35" stroke-linecap="round"/>
<path d="M40.7,9.1 C39.8,9.4 36.4,9.8 35.2,11.0 C34.0,12.2 33.9,14.5 33.4,16.5 C32.9,18.5 33.3,21.1 32.5,22.9 C31.7,24.7 30.3,26.3 28.8,27.4 C27.3,28.5 24.8,28.5 23.3,29.3 C21.8,30.1 20.5,30.3 19.7,32.0 C18.9,33.7 18.9,38.2 18.7,39.4" fill="none" stroke="#2f63a3" stroke-width="1.35" stroke-linecap="round"/>
<path d="M21.5,34.7 C22.4,34.6 24.9,34.2 27.0,33.8 C29.1,33.3 32.2,32.8 34.3,32.0 C36.4,31.2 39.0,28.9 39.8,29.3 C40.6,29.8 40.0,33.2 38.9,34.7 C37.8,36.2 35.5,37.6 33.4,38.4 C31.3,39.2 27.3,39.1 26.1,39.3" fill="none" stroke="#2f63a3" stroke-width="1.35" stroke-linecap="round"/>
<path d="M2.0,2.0 C2.5,2.2 4.0,2.9 5.0,3.5 C6.0,4.1 7.3,5.2 7.8,5.5" fill="none" stroke="#2f63a3" stroke-width="1.35" stroke-linecap="round"/>
<circle cx="10.5" cy="3.2" r="1.1" fill="#d61f26"/>
<circle cx="10.5" cy="6.4" r="1.1" fill="#d61f26"/>
<circle cx="3.2" cy="17" r="1.1" fill="#d61f26"/>
<circle cx="5" cy="35.2" r="1.1" fill="#d61f26"/>
<circle cx="33.4" cy="29.7" r="1.1" fill="#d61f26"/>
<rect x="27" y="1.6" width="3.2" height="1.5" fill="#d61f26"/>
<rect x="2.6" y="16.3" width="3.2" height="1.4" fill="#d61f26"/>
<line x1="14.2" y1="17.4" x2="16.4" y2="18.6" stroke="#1a1a1a" stroke-width="1.2" stroke-linecap="round"/>
<line x1="6.9" y1="25.6" x2="9.8" y2="28" stroke="#1a1a1a" stroke-width="1.2" stroke-linecap="round"/>
<line x1="37" y1="13.7" x2="38.4" y2="16.5" stroke="#1a1a1a" stroke-width="1.2" stroke-linecap="round"/>
<line x1="23.3" y1="20.6" x2="27.06" y2="21.97" stroke="#1a1a1a" stroke-width="0.8"/>
<circle cx="27.43" cy="22.11" r="0.95" fill="#d61f26"/>
<line x1="23.3" y1="20.6" x2="23.99" y2="24.54" stroke="#1a1a1a" stroke-width="0.8"/>
<circle cx="24.06" cy="24.93" r="0.95" fill="#d61f26"/>
<line x1="23.3" y1="20.6" x2="20.23" y2="23.17" stroke="#1a1a1a" stroke-width="0.8"/>
<circle cx="19.93" cy="23.43" r="0.95" fill="#d61f26"/>
<line x1="23.3" y1="20.6" x2="19.54" y2="19.23" stroke="#1a1a1a" stroke-width="0.8"/>
<circle cx="19.17" cy="19.09" r="0.95" fill="#d61f26"/>
<line x1="23.3" y1="20.6" x2="22.61" y2="16.66" stroke="#1a1a1a" stroke-width="0.8"/>
<circle cx="22.54" cy="16.27" r="0.95" fill="#d61f26"/>
<line x1="23.3" y1="20.6" x2="26.37" y2="18.03" stroke="#1a1a1a" stroke-width="0.8"/>
<circle cx="26.67" cy="17.77" r="0.95" fill="#d61f26"/>
<circle cx="23.3" cy="20.6" r="0.9" fill="#e0803a"/>
</g></g>
<circle cx="219.3" cy="404.3" r="1.3" fill="#c8202a"/>
<circle cx="219.3" cy="419.8" r="1.3" fill="#7aa84a"/>
<circle cx="219.3" cy="434" r="1.4" fill="#9a82c0"/>
<circle cx="219.3" cy="449.8" r="1.8" fill="#c85a1a"/>
<circle cx="219.3" cy="464.5" r="1.4" fill="#e59a6a"/>
<polygon points="217.5,405 218.3,402.5 219,405" fill="#444"/>
<text x="224.9" y="407.5" font-size="9" fill="#231f20" text-anchor="start" letter-spacing="-0.6">H2O</text>
<text x="224.9" y="423.2" font-size="9.5" fill="#231f20" text-anchor="start" >Li<tspan font-size="5.5" dy="-3.5">+</tspan></text>
<text x="224.9" y="437.4" font-size="9.5" fill="#231f20" text-anchor="start" >Br<tspan font-size="5.5" dy="-3.5">-</tspan></text>
<text x="224.9" y="453.2" font-size="9.5" fill="#231f20" text-anchor="start" >Zn<tspan font-size="5.5" dy="-3.5">2+</tspan></text>
<text x="224.9" y="467.9" font-size="9.5" fill="#231f20" text-anchor="start" >Cl<tspan font-size="5.5" dy="-3.5">-</tspan></text>
<path d="M220.7,479.6 C224,482 227,479 229,477 C231,475.5 233.5,476.5 235.4,478" fill="none" stroke="#2f64a6" stroke-width="1.3" />
<text x="228.5" y="491.8" font-size="9" fill="#231f20" text-anchor="middle" >Cellulose</text>
<text x="238.6" y="390.2" font-size="16.5" fill="#231f20" text-anchor="start" >h</text>
<defs>
<pattern id="fab" x="0" y="0" width="2.4" height="5" patternUnits="userSpaceOnUse" patternTransform="rotate(-25)">
<rect width="2.4" height="5" fill="#b9c0c2"/>
<ellipse cx="0.6" cy="1.25" rx="0.75" ry="0.8" fill="#8a9497"/>
<ellipse cx="1.8" cy="3.75" rx="0.75" ry="0.8" fill="#8a9497"/>
</pattern>
<pattern id="fab2" x="0" y="0" width="2.4" height="5" patternUnits="userSpaceOnUse" patternTransform="rotate(-25)">
<rect width="2.4" height="5" fill="#bdc1bc"/>
<ellipse cx="0.6" cy="1.25" rx="0.75" ry="0.8" fill="#8f9591"/>
<ellipse cx="1.8" cy="3.75" rx="0.75" ry="0.8" fill="#8f9591"/>
</pattern>
<linearGradient id="bgh" x1="0" y1="0" x2="1" y2="0.3"><stop offset="0" stop-color="#9a9da1"/><stop offset="0.5" stop-color="#979a9e"/><stop offset="1" stop-color="#8b8d91"/></linearGradient>
<linearGradient id="glove" x1="0" y1="0" x2="0.3" y2="1"><stop offset="0" stop-color="#168460"/><stop offset="1" stop-color="#0c6549"/></linearGradient>
<linearGradient id="gfront" x1="0" y1="0" x2="0.4" y2="1"><stop offset="0" stop-color="#188b66"/><stop offset="1" stop-color="#0d684c"/></linearGradient>
<linearGradient id="gmid" x1="0" y1="0" x2="0.3" y2="1"><stop offset="0" stop-color="#178763"/><stop offset="1" stop-color="#0e6a4e"/></linearGradient>
</defs>
<rect x="271.2" y="387.1" width="170.5" height="137.9" fill="url(#fab)" />
<polygon points="310.6,402.1 408.8,402.1 410.6,497.5" fill="url(#fab2)" stroke="#8a9290" stroke-width="0.8"/>
<polygon points="306.4,411.5 306.4,509.8 408,509.8" fill="url(#fab2)" stroke="#8a9290" stroke-width="0.8"/>
<line x1="311.5" y1="403.2" x2="410.0" y2="497.0" stroke="#7e8785" stroke-width="0.7" />
<line x1="307.2" y1="412.2" x2="407.0" y2="509.2" stroke="#dde3e3" stroke-width="1.0" />
<line x1="308.5" y1="411.8" x2="408.5" y2="508.0" stroke="#c8d0d0" stroke-width="0.8" opacity="0.7"/>
<rect x="412.0" y="502.0" width="28.0" height="20.0" fill="#a9b3b6" opacity="0.0"/>
<text x="429.0" y="513.3" font-size="8.5" fill="#231f20" text-anchor="middle" >1 cm</text>
<line x1="422.5" y1="519.2" x2="435.9" y2="519.2" stroke="#231f20" stroke-width="1.4" />
<text x="477.6" y="439.6" font-size="9.5" fill="#231f20" text-anchor="middle" >130 <tspan font-size="6" dy="-4.4">o</tspan><tspan dy="4.4">C</tspan></text>
<polygon points="466.8,454.8 477.5,454.8 477.5,451.2 485.8,457.6 477.5,464 477.5,460.4 466.8,460.4" fill="#c8202e"/>
<text x="477.6" y="484.3" font-size="9.5" fill="#231f20" text-anchor="middle" >Self-healing</text>
<rect x="513.2" y="387.1" width="171.8" height="137.9" fill="url(#bgh)" />
<path d="M556.2,462 C562,452 570,442 577,434 L651,454 C653,462 655,468 656.3,475.3 C630,486 600,498 574.3,508.6 C567,492 560,476 556.2,462 Z" fill="#a3a4a4" fill-opacity="0.6" stroke="#a8aaac" stroke-width="0.5"/>
<path d="M557,463 C563,478 568,493 574.3,508.6" fill="none" stroke="#cdd0d2" stroke-width="1.1" />
<path d="M556.5,461 C562,452 569,443 576.5,435" fill="none" stroke="#d0d3d5" stroke-width="1.0" />
<path d="M574.3,508.6 C600,498 630,486 656.3,475.3" fill="none" stroke="#b8babc" stroke-width="0.7" />
<path d="M585,387.1 L685,387.1 L685,440 C670,444 660,450 648,452 C635,455 620,455 609,450 C600,447 590,447 580,441 C574,436 574,426 580,418 C585,412 588,408 586,400 C584,394 584,390 585,387.1 Z" fill="#074a35"/>
<path d="M587,387.5 L685,387.5 L685,402 C660,402 640,401 620,402.5 C605,404 595,407 590,404 C585,400 584,392 587,387.5 Z" fill="url(#glove)"/>
<path d="M576,432 C574,424 580,415 592,410 C605,405 625,403 650,400 C665,398 675,397 685,396 L685,410 C665,413 640,418 625,421 C612,425 606,432 604.4,440.4 C600,445 590,446 583,442 C578,439 576,436 576,432 Z" fill="url(#gmid)"/>
<path d="M604.4,440 C604,430 612,424 625,419.4 C640,415 660,410 685,404 L685,438 C672,443 660,449 648,451.5 C635,454 620,454 612,451 C606,449 604.4,445 604.4,440 Z" fill="url(#gfront)"/>
<path d="M679,450 C680,445 683,444 685,444 L685,466 C681,466 678.5,458 679,450 Z" fill="#137a5a"/>
<path d="M586,401 C590,406 596,407.5 605,405.5 C625,402 650,400.5 685,399" fill="none" stroke="#0c4d3a" stroke-width="1.6" opacity="0.85"/>
<path d="M604.4,440 C605,431 613,424 626,419.5 C645,414 665,408 685,403.5" fill="none" stroke="#0e5443" stroke-width="1.4" opacity="0.9"/>
<path d="M577,440 C585,446 597,447 604.5,442" fill="none" stroke="#0c4d3a" stroke-width="1.2" opacity="0.7"/>
<path d="M612,435.5 C625,439 638,444 648,447.5" fill="none" stroke="#f2f5f4" stroke-width="1.5" stroke-linecap="round"/>
<path d="M622,408 L623.8,416" fill="none" stroke="#e6ecea" stroke-width="1" stroke-linecap="round"/>
<path d="M590,432 C594,434.5 598,435.5 603,435" fill="none" stroke="#d8e4e0" stroke-width="0.8" opacity="0.8"/>
<path d="M577,434 C590,424 605,413 625,405 C640,404 650,405 655,406 L651,454" fill="none" stroke="#a8c9bd" stroke-width="0.6" opacity="0.3"/>
<circle cx="610" cy="420" r="0.9" fill="#e8f0ee"/>
<text x="671.4" y="512.0" font-size="8.5" fill="#231f20" text-anchor="middle" >1 cm</text>
<line x1="665.2" y1="517.8" x2="677.5" y2="517.8" stroke="#231f20" stroke-width="1.4" />
</svg></div></body></html>
